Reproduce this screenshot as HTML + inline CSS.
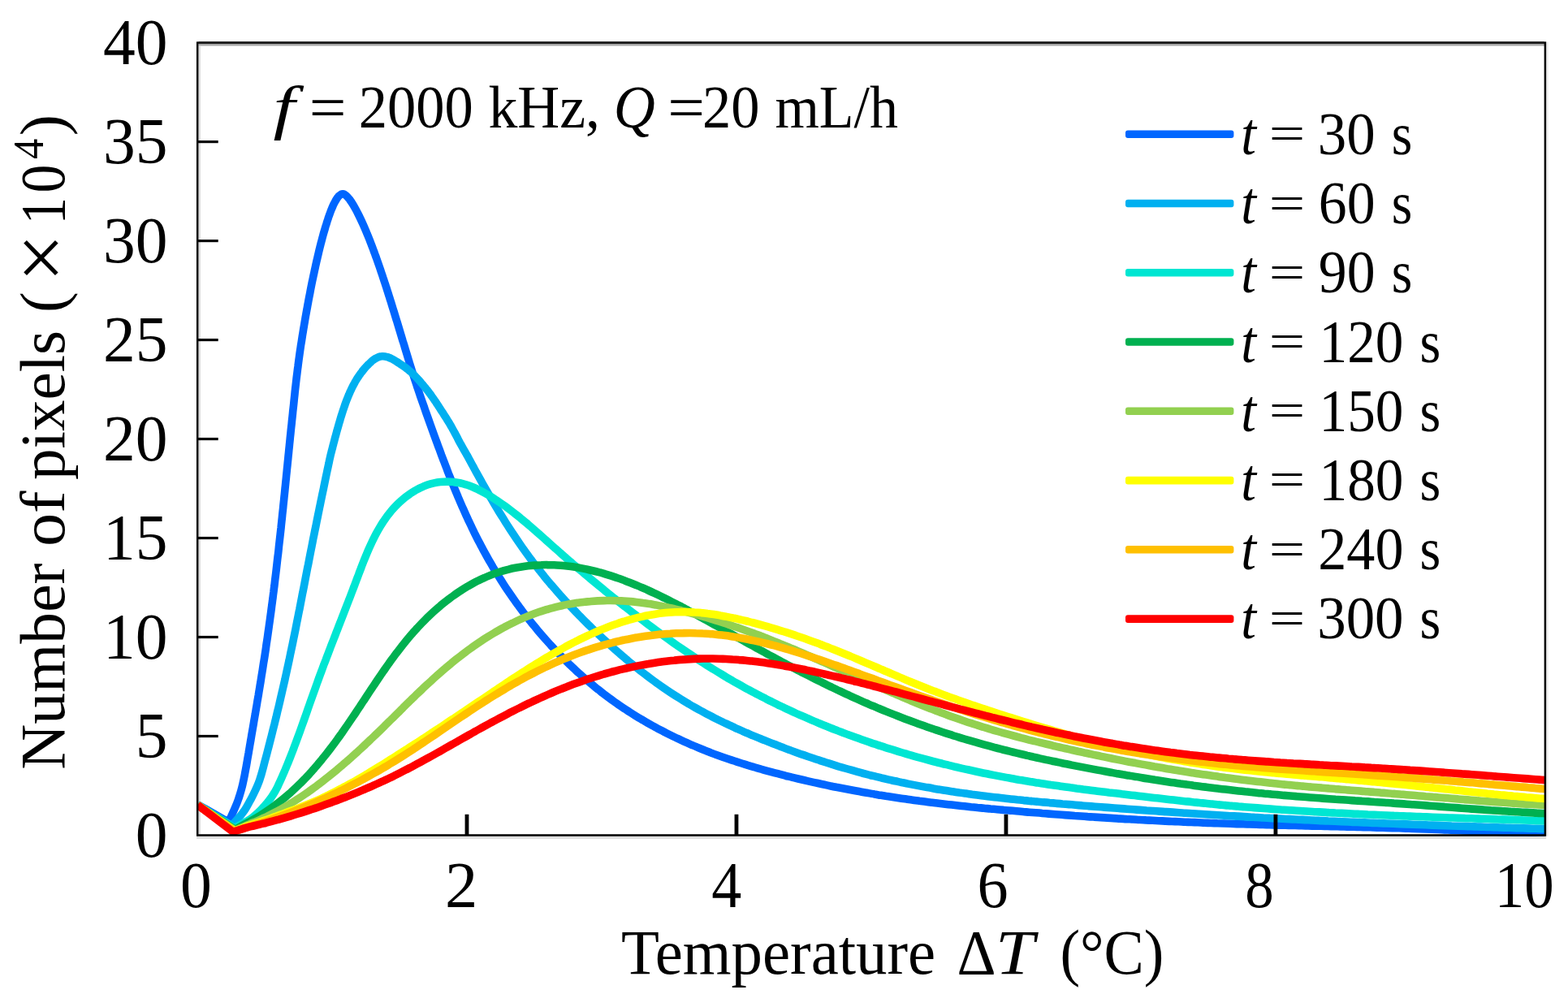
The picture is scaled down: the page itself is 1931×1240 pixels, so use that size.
<!DOCTYPE html>
<html lang="en">
<head>
<meta charset="utf-8">
<title>Number of pixels vs Temperature</title>
<style>
html,body{margin:0;padding:0;background:#fff;}
body{width:1931px;height:1240px;overflow:hidden;}
svg{display:block;}
</style>
</head>
<body>
<svg width="1931" height="1240" viewBox="0 0 1931 1240">
<defs><clipPath id="clip"><rect x="242.2" y="0" width="1660.7" height="1240"/></clipPath></defs>
<rect x="0" y="0" width="1931" height="1240" fill="#fff"/>
<g fill="none" stroke="#dedede" stroke-width="2.5">
<line x1="244.40" y1="55.15" x2="1904.10" y2="55.15" stroke="#a8a8a8"/>
<line x1="245.70" y1="56.40" x2="245.70" y2="1027.30"/>
<line x1="242.00" y1="1031.30" x2="1904.20" y2="1031.30" stroke-width="3.2" stroke="#e0e0e0"/>
<line x1="1905.40" y1="51.40" x2="1905.40" y2="1029.80" stroke="#ebebeb"/>
</g>
<g clip-path="url(#clip)" fill="none" stroke-width="9.6" stroke-linejoin="round" stroke-linecap="butt">
<path d="M243.4 990.6 L281.6 1012.3 C284.0 1007.0 287.0 1000.3 288.7 996.4 C290.4 992.5 290.8 991.5 291.8 989.0 C292.8 986.5 293.6 984.0 294.5 981.5 C295.3 978.9 296.1 976.4 296.8 973.8 C297.5 971.2 298.2 968.7 298.8 966.1 C299.4 963.5 300.0 960.9 300.5 958.2 C301.1 955.6 301.5 953.0 302.0 950.4 C302.5 947.8 303.0 945.1 303.5 942.5 C303.9 939.9 304.4 937.3 304.8 934.6 C305.3 932.0 305.7 929.4 306.2 926.8 C306.6 924.1 307.1 921.5 307.5 918.9 C308.0 916.2 308.4 913.6 308.9 911.0 C309.3 908.4 309.8 905.7 310.2 903.1 C310.7 900.5 311.1 897.8 311.6 895.2 C312.0 892.6 312.5 890.0 312.9 887.3 C313.4 884.7 313.8 882.1 314.3 879.4 C314.7 876.8 315.2 874.2 315.6 871.6 C316.1 868.9 316.5 866.3 316.9 863.7 C317.4 861.0 317.8 858.4 318.3 855.8 C318.7 853.1 319.1 850.5 319.6 847.9 C320.0 845.2 320.4 842.6 320.9 840.0 C321.3 837.3 321.7 834.7 322.1 832.1 C322.6 829.5 323.0 826.8 323.4 824.2 C323.8 821.6 324.2 818.9 324.6 816.3 C325.1 813.6 325.5 811.0 325.9 808.4 C326.3 805.7 326.7 803.1 327.1 800.5 C327.5 797.8 327.8 795.2 328.2 792.6 C328.6 789.9 329.0 787.3 329.4 784.6 C329.8 782.0 330.1 779.4 330.5 776.7 C330.9 774.1 331.3 771.4 331.6 768.8 C332.0 766.2 332.4 763.5 332.7 760.9 C333.1 758.2 333.4 755.6 333.8 753.0 C334.1 750.3 334.5 747.7 334.8 745.0 C335.2 742.4 335.5 739.7 335.9 737.1 C336.2 734.4 336.5 731.8 336.9 729.1 C337.2 726.5 337.5 723.9 337.9 721.2 C338.2 718.6 338.5 715.9 338.8 713.3 C339.1 710.6 339.5 708.0 339.8 705.3 C340.1 702.7 340.4 700.0 340.7 697.4 C341.0 694.7 341.3 692.1 341.6 689.4 C341.9 686.8 342.2 684.1 342.6 681.5 C342.9 678.8 343.2 676.2 343.4 673.5 C343.7 670.9 344.0 668.2 344.3 665.6 C344.6 662.9 344.9 660.3 345.2 657.6 C345.5 655.0 345.8 652.3 346.1 649.7 C346.3 647.0 346.6 644.4 346.9 641.7 C347.2 639.1 347.5 636.4 347.7 633.8 C348.0 631.1 348.3 628.5 348.6 625.8 C348.8 623.1 349.1 620.5 349.4 617.8 C349.7 615.2 349.9 612.5 350.2 609.9 C350.5 607.2 350.8 604.6 351.0 601.9 C351.3 599.3 351.6 596.6 351.8 594.0 C352.1 591.3 352.4 588.7 352.6 586.0 C352.9 583.3 353.2 580.7 353.4 578.0 C353.7 575.4 354.0 572.7 354.2 570.1 C354.5 567.4 354.8 564.8 355.0 562.1 C355.3 559.5 355.6 556.8 355.8 554.1 C356.1 551.5 356.4 548.9 356.6 546.2 C356.9 543.5 357.2 540.9 357.4 538.2 C357.7 535.6 358.0 532.9 358.2 530.3 C358.5 527.6 358.8 525.0 359.1 522.3 C359.3 519.7 359.6 517.0 359.9 514.4 C360.2 511.7 360.5 509.1 360.7 506.4 C361.0 503.8 361.3 501.1 361.6 498.5 C361.9 495.8 362.1 493.2 362.4 490.5 C362.7 487.9 363.0 485.2 363.2 482.6 C363.5 480.0 363.8 477.3 364.1 474.7 C364.4 472.0 364.7 469.4 365.0 466.7 C365.3 464.1 365.7 461.4 366.0 458.8 C366.3 456.1 366.6 453.5 367.0 450.9 C367.3 448.2 367.7 445.6 368.0 442.9 C368.4 440.3 368.7 437.8 369.1 435.0 C369.5 432.2 370.1 428.5 370.4 426.0 C370.8 423.5 371.1 422.0 371.4 420.0 C371.7 418.0 372.0 416.0 372.3 414.0 C372.6 412.0 373.0 410.0 373.3 408.0 C373.6 406.0 373.9 404.0 374.3 402.0 C374.6 400.0 375.0 398.0 375.3 396.0 C375.6 394.0 376.0 392.0 376.3 390.0 C376.7 388.0 377.0 386.0 377.4 384.0 C377.7 382.0 378.1 380.0 378.5 378.0 C378.8 376.0 379.2 374.0 379.6 372.0 C379.9 370.0 380.3 368.0 380.7 366.0 C381.1 364.0 381.5 362.0 381.9 360.0 C382.2 358.0 382.6 356.0 383.0 354.0 C383.4 352.0 383.8 350.0 384.2 348.0 C384.6 346.0 385.1 344.0 385.5 342.0 C385.9 340.0 386.3 338.0 386.8 336.0 C387.2 334.0 387.6 332.0 388.1 330.0 C388.5 328.0 388.9 326.0 389.4 324.0 C389.8 322.0 390.3 320.0 390.8 318.0 C391.2 316.0 391.7 314.0 392.2 312.0 C392.6 310.0 393.1 308.0 393.6 306.0 C394.1 304.0 394.6 302.0 395.1 300.0 C395.7 298.0 396.2 296.0 396.7 294.0 C397.2 292.0 397.8 290.0 398.3 288.0 C398.9 286.0 399.5 284.0 400.1 282.0 C400.6 280.0 401.2 278.0 401.9 276.0 C402.5 274.0 403.1 272.0 403.8 270.0 C404.4 268.0 405.1 266.0 405.9 264.0 C406.6 262.0 407.3 260.0 408.1 258.0 C409.0 256.0 409.8 254.0 410.7 252.0 C411.7 250.0 413.3 247.2 413.9 246.0 C414.6 244.8 414.3 245.4 414.7 244.8 C415.1 244.2 416.0 243.0 416.5 242.3 C417.1 241.6 417.7 241.1 418.2 240.6 C418.7 240.1 419.2 239.8 419.7 239.5 C420.2 239.2 420.7 239.1 421.1 238.9 C421.5 238.8 421.8 238.8 422.2 238.8 C422.6 238.8 422.8 238.8 423.2 238.9 C423.6 239.1 424.0 239.2 424.5 239.5 C425.0 239.8 425.5 240.1 426.0 240.6 C426.6 241.1 427.2 241.6 427.8 242.3 C428.5 243.0 429.4 244.2 429.9 244.8 C430.4 245.4 430.0 244.8 430.8 246.0 C431.7 247.2 433.6 250.0 434.8 252.0 C436.0 254.0 437.1 256.0 438.2 258.0 C439.3 260.0 440.3 262.0 441.3 264.0 C442.3 266.0 443.3 268.0 444.2 270.0 C445.2 272.0 446.1 274.0 447.0 276.0 C447.9 278.0 448.8 280.0 449.6 282.0 C450.5 284.0 451.3 286.0 452.1 288.0 C453.0 290.0 453.8 292.0 454.6 294.0 C455.4 296.0 456.1 298.0 456.9 300.0 C457.7 302.0 458.4 304.0 459.2 306.0 C459.9 308.0 460.7 310.0 461.4 312.0 C462.1 314.0 462.9 316.0 463.6 318.0 C464.3 320.0 465.0 322.0 465.7 324.0 C466.4 326.0 467.1 328.0 467.8 330.0 C468.5 332.0 469.1 334.0 469.8 336.0 C470.5 338.0 471.2 340.0 471.8 342.0 C472.5 344.0 473.1 346.0 473.8 348.0 C474.5 350.0 475.1 352.0 475.8 354.0 C476.4 356.0 477.0 358.0 477.7 360.0 C478.3 362.0 478.9 364.0 479.6 366.0 C480.2 368.0 480.8 370.0 481.5 372.0 C482.1 374.0 482.7 376.0 483.3 378.0 C483.9 380.0 484.6 382.0 485.2 384.0 C485.8 386.0 486.4 388.0 487.0 390.0 C487.6 392.0 488.2 394.0 488.9 396.0 C489.5 398.0 490.1 400.0 490.7 402.0 C491.3 404.0 491.9 406.0 492.5 408.0 C493.1 410.0 493.7 412.0 494.3 414.0 C494.9 416.0 495.5 418.0 496.1 420.0 C496.8 422.0 497.4 424.1 498.0 426.0 C498.6 427.9 499.0 429.5 499.7 431.7 C500.4 433.9 501.2 436.8 502.0 439.3 C502.8 441.9 503.6 444.4 504.3 446.9 C505.1 449.5 505.9 452.0 506.7 454.5 C507.5 457.1 508.3 459.6 509.1 462.1 C509.9 464.6 510.7 467.2 511.6 469.7 C512.4 472.2 513.2 474.8 514.1 477.3 C514.9 479.8 515.8 482.3 516.6 484.8 C517.5 487.4 518.4 489.9 519.2 492.4 C520.1 494.9 521.0 497.4 521.9 499.9 C522.8 502.5 523.6 505.0 524.5 507.5 C525.4 510.0 526.3 512.5 527.2 515.0 C528.1 517.6 529.0 520.1 529.9 522.6 C530.8 525.1 531.7 527.6 532.6 530.1 C533.5 532.6 534.4 535.1 535.3 537.6 C536.2 540.1 537.1 542.6 538.1 545.1 C539.0 547.7 539.9 550.2 540.9 552.7 C541.8 555.2 542.7 557.7 543.6 560.2 C544.6 562.7 545.5 565.2 546.5 567.7 C547.4 570.2 548.4 572.7 549.4 575.2 C550.3 577.7 551.3 580.2 552.2 582.7 C553.2 585.2 554.2 587.6 555.2 590.1 C556.2 592.6 557.2 595.1 558.2 597.6 C559.2 600.0 560.2 602.5 561.2 605.0 C562.3 607.5 563.3 609.9 564.3 612.4 C565.4 614.9 566.4 617.3 567.5 619.8 C568.5 622.2 569.6 624.7 570.7 627.1 C571.8 629.5 572.9 632.0 574.0 634.4 C575.1 636.8 576.2 639.3 577.3 641.7 C578.5 644.1 579.6 646.5 580.8 648.9 C581.9 651.3 583.1 653.7 584.2 656.1 C585.4 658.5 586.6 660.9 587.8 663.2 C589.0 665.6 590.3 668.0 591.5 670.3 C592.7 672.7 594.0 675.0 595.2 677.4 C596.5 679.7 597.8 682.0 599.1 684.4 C600.4 686.7 601.7 689.0 603.0 691.3 C604.4 693.6 605.7 695.9 607.0 698.2 C608.4 700.5 609.8 702.8 611.2 705.0 C612.5 707.3 613.9 709.5 615.4 711.8 C616.8 714.0 618.2 716.3 619.6 718.5 C621.1 720.8 622.5 723.0 624.0 725.2 C625.5 727.4 627.0 729.6 628.5 731.8 C630.0 734.0 631.5 736.2 633.0 738.3 C634.6 740.5 636.1 742.7 637.7 744.8 C639.3 747.0 640.8 749.1 642.4 751.2 C644.0 753.4 645.6 755.5 647.2 757.6 C648.9 759.7 650.5 761.8 652.2 763.9 C653.8 766.0 655.5 768.1 657.2 770.1 C658.9 772.2 660.6 774.3 662.3 776.3 C664.0 778.3 665.8 780.4 667.5 782.4 C669.2 784.4 671.0 786.4 672.8 788.4 C674.6 790.4 676.4 792.4 678.2 794.4 C680.0 796.3 681.8 798.3 683.6 800.2 C685.5 802.2 687.3 804.1 689.2 806.0 C691.1 808.0 693.0 809.9 694.9 811.8 C696.7 813.6 698.7 815.5 700.6 817.4 C702.5 819.2 704.4 821.1 706.4 822.9 C708.4 824.7 710.3 826.6 712.3 828.4 C714.3 830.1 716.3 831.9 718.3 833.7 C720.3 835.5 722.3 837.2 724.4 838.9 C726.4 840.7 728.4 842.4 730.5 844.1 C732.6 845.8 734.6 847.5 736.7 849.1 C738.8 850.8 740.9 852.4 743.0 854.1 C745.2 855.7 747.3 857.3 749.4 858.9 C751.6 860.5 753.7 862.0 755.9 863.6 C758.1 865.1 760.2 866.7 762.4 868.2 C764.6 869.7 766.8 871.2 769.0 872.7 C771.3 874.1 773.5 875.6 775.7 877.0 C778.0 878.5 780.2 879.9 782.5 881.3 C784.7 882.7 787.0 884.1 789.3 885.4 C791.6 886.8 793.9 888.1 796.2 889.5 C798.5 890.8 800.8 892.1 803.1 893.4 C805.4 894.7 807.8 895.9 810.1 897.2 C812.5 898.4 814.8 899.7 817.2 900.9 C819.6 902.1 821.9 903.3 824.3 904.5 C826.7 905.7 829.1 906.9 831.5 908.0 C833.9 909.1 836.3 910.3 838.7 911.4 C841.1 912.5 843.6 913.6 846.0 914.7 C848.4 915.8 850.9 916.8 853.3 917.9 C855.8 918.9 858.2 920.0 860.7 921.0 C863.1 922.0 865.6 923.0 868.1 924.0 C870.6 924.9 873.0 925.9 875.5 926.9 C878.0 927.8 880.5 928.7 883.0 929.7 C885.5 930.6 888.0 931.5 890.6 932.4 C893.1 933.3 895.6 934.1 898.1 935.0 C900.6 935.9 903.2 936.7 905.7 937.5 C908.2 938.4 910.8 939.2 913.3 940.0 C915.9 940.8 918.4 941.6 921.0 942.4 C923.5 943.1 926.1 943.9 928.7 944.7 C931.2 945.4 933.8 946.2 936.4 946.9 C938.9 947.6 941.5 948.4 944.1 949.1 C946.6 949.8 949.2 950.5 951.8 951.2 C954.4 951.9 957.0 952.5 959.6 953.2 C962.2 953.9 964.7 954.5 967.3 955.2 C969.9 955.8 972.5 956.5 975.1 957.1 C977.7 957.8 980.3 958.4 982.9 959.0 C985.5 959.6 988.1 960.2 990.7 960.8 C993.3 961.4 995.9 962.0 998.5 962.6 C1001.1 963.2 1003.7 963.8 1006.3 964.3 C1008.9 964.9 1011.6 965.5 1014.2 966.0 C1016.8 966.6 1019.4 967.1 1022.0 967.7 C1024.6 968.2 1027.2 968.7 1029.8 969.3 C1032.4 969.8 1035.0 970.3 1037.7 970.8 C1040.3 971.3 1042.9 971.8 1045.5 972.3 C1048.1 972.8 1050.7 973.3 1053.4 973.8 C1056.0 974.3 1058.6 974.8 1061.2 975.2 C1063.8 975.7 1066.5 976.2 1069.1 976.6 C1071.7 977.1 1074.3 977.5 1077.0 978.0 C1079.6 978.4 1082.2 978.9 1084.8 979.3 C1087.5 979.7 1090.1 980.1 1092.7 980.6 C1095.4 981.0 1098.0 981.4 1100.6 981.8 C1103.3 982.2 1105.9 982.6 1108.5 983.0 C1111.2 983.4 1113.8 983.7 1116.4 984.1 C1119.1 984.5 1121.7 984.9 1124.3 985.2 C1127.0 985.6 1129.6 985.9 1132.3 986.3 C1134.9 986.6 1137.6 987.0 1140.2 987.3 C1142.8 987.7 1145.5 988.0 1148.1 988.3 C1150.8 988.6 1153.4 989.0 1156.1 989.3 C1158.7 989.6 1161.4 989.9 1164.0 990.2 C1166.7 990.5 1169.3 990.8 1172.0 991.1 C1174.6 991.4 1177.3 991.7 1180.0 992.0 C1182.6 992.3 1185.3 992.6 1187.9 992.8 C1190.6 993.1 1193.2 993.4 1195.9 993.7 C1198.5 993.9 1201.2 994.2 1203.8 994.5 C1206.5 994.7 1209.2 995.0 1211.8 995.2 C1214.5 995.5 1217.1 995.7 1219.8 996.0 C1222.4 996.2 1225.1 996.5 1227.8 996.7 C1230.4 997.0 1233.1 997.2 1235.7 997.4 C1238.4 997.7 1241.1 997.9 1243.7 998.1 C1246.4 998.4 1249.0 998.6 1251.7 998.8 C1254.3 999.1 1257.0 999.3 1259.7 999.5 C1262.3 999.7 1265.0 1000.0 1267.6 1000.2 C1270.3 1000.4 1272.9 1000.6 1275.6 1000.8 C1278.3 1001.0 1280.9 1001.2 1283.6 1001.5 C1286.2 1001.7 1288.9 1001.9 1291.5 1002.1 C1294.2 1002.3 1296.9 1002.5 1299.5 1002.7 C1302.2 1002.9 1304.8 1003.1 1307.5 1003.3 C1310.2 1003.5 1312.8 1003.7 1315.5 1003.9 C1318.1 1004.1 1320.8 1004.3 1323.5 1004.5 C1326.1 1004.6 1328.8 1004.8 1331.4 1005.0 C1334.1 1005.2 1336.7 1005.4 1339.4 1005.6 C1342.1 1005.7 1344.7 1005.9 1347.4 1006.1 C1350.0 1006.3 1352.7 1006.5 1355.4 1006.6 C1358.0 1006.8 1360.7 1007.0 1363.3 1007.1 C1366.0 1007.3 1368.7 1007.5 1371.3 1007.6 C1374.0 1007.8 1376.6 1007.9 1379.3 1008.1 C1382.0 1008.3 1384.6 1008.4 1387.3 1008.6 C1390.0 1008.7 1392.6 1008.9 1395.3 1009.0 C1397.9 1009.2 1400.6 1009.3 1403.3 1009.5 C1405.9 1009.6 1408.6 1009.7 1411.2 1009.9 C1413.9 1010.0 1416.6 1010.2 1419.2 1010.3 C1421.9 1010.4 1424.6 1010.6 1427.2 1010.7 C1429.9 1010.8 1432.6 1011.0 1435.2 1011.1 C1437.9 1011.2 1440.6 1011.3 1443.2 1011.5 C1445.9 1011.6 1448.5 1011.7 1451.2 1011.8 C1453.9 1011.9 1456.5 1012.1 1459.2 1012.2 C1461.9 1012.3 1464.5 1012.4 1467.2 1012.5 C1469.9 1012.6 1472.5 1012.7 1475.2 1012.8 C1477.9 1012.9 1480.5 1013.1 1483.2 1013.2 C1485.9 1013.3 1488.5 1013.4 1491.2 1013.5 C1493.9 1013.6 1496.5 1013.7 1499.2 1013.8 C1501.9 1013.8 1504.5 1013.9 1507.2 1014.0 C1509.8 1014.1 1512.5 1014.2 1515.2 1014.3 C1517.8 1014.4 1520.5 1014.5 1523.2 1014.6 C1525.8 1014.6 1528.5 1014.7 1531.2 1014.8 C1533.8 1014.9 1536.5 1015.0 1539.2 1015.0 C1541.8 1015.1 1544.5 1015.2 1547.2 1015.3 C1549.8 1015.4 1552.5 1015.4 1555.2 1015.5 C1557.8 1015.6 1560.5 1015.7 1563.2 1015.7 C1565.8 1015.8 1568.5 1015.9 1571.2 1015.9 C1573.8 1016.0 1576.5 1016.1 1579.2 1016.1 C1581.8 1016.2 1584.5 1016.3 1587.1 1016.4 C1589.8 1016.4 1592.5 1016.5 1595.1 1016.5 C1597.8 1016.6 1600.5 1016.7 1603.1 1016.7 C1605.8 1016.8 1608.5 1016.9 1611.1 1016.9 C1613.8 1017.0 1616.5 1017.1 1619.1 1017.1 C1621.8 1017.2 1624.5 1017.3 1627.1 1017.3 C1629.8 1017.4 1632.5 1017.4 1635.1 1017.5 C1637.8 1017.6 1640.5 1017.6 1643.1 1017.7 C1645.8 1017.8 1648.5 1017.8 1651.1 1017.9 C1653.8 1018.0 1656.4 1018.0 1659.1 1018.1 C1661.8 1018.2 1664.4 1018.2 1667.1 1018.3 C1669.8 1018.4 1672.4 1018.4 1675.1 1018.5 C1677.8 1018.6 1680.4 1018.6 1683.1 1018.7 C1685.8 1018.8 1688.4 1018.8 1691.1 1018.9 C1693.8 1019.0 1696.4 1019.1 1699.1 1019.1 C1701.8 1019.2 1704.4 1019.3 1707.1 1019.4 C1709.8 1019.4 1712.4 1019.5 1715.1 1019.6 C1717.8 1019.7 1720.4 1019.8 1723.1 1019.8 C1725.8 1019.9 1728.4 1020.0 1731.1 1020.1 C1733.8 1020.2 1736.4 1020.3 1739.1 1020.4 C1741.8 1020.4 1744.4 1020.5 1747.1 1020.6 C1749.7 1020.7 1752.4 1020.8 1755.1 1020.9 C1757.7 1021.0 1760.4 1021.1 1763.1 1021.2 C1765.7 1021.3 1768.4 1021.4 1771.1 1021.5 C1773.7 1021.6 1776.4 1021.7 1779.1 1021.9 C1781.7 1022.0 1784.4 1022.1 1787.0 1022.2 C1789.7 1022.3 1792.4 1022.4 1795.0 1022.5 C1797.7 1022.6 1800.4 1022.7 1803.0 1022.9 C1805.7 1023.0 1808.4 1023.1 1811.0 1023.2 C1813.7 1023.3 1816.4 1023.4 1819.0 1023.5 C1821.7 1023.6 1824.4 1023.7 1827.0 1023.8 C1829.7 1023.9 1832.3 1024.0 1835.0 1024.1 C1837.7 1024.2 1840.3 1024.2 1843.0 1024.3 C1845.7 1024.4 1848.3 1024.5 1851.0 1024.6 C1853.7 1024.6 1856.3 1024.7 1859.0 1024.8 C1861.7 1024.8 1864.3 1024.9 1867.0 1024.9 C1869.7 1025.0 1872.3 1025.0 1875.0 1025.0 C1877.7 1025.0 1880.3 1025.1 1883.0 1025.1 C1885.7 1025.1 1888.3 1025.1 1891.0 1025.1 C1893.7 1025.1 1897.0 1025.0 1899.0 1025.0 C1901.0 1025.0 1902.3 1025.0 1903.0 1025.0" stroke="#0066FF"/>
<path d="M243.4 991.2 L285.5 1016.5 C289.4 1012.0 294.4 1006.4 297.2 1003.1 C299.9 999.8 300.4 998.9 301.9 996.7 C303.4 994.4 304.7 992.1 305.9 989.8 C307.2 987.5 308.4 985.1 309.7 982.8 C310.9 980.4 312.1 978.0 313.3 975.6 C314.5 973.2 315.6 970.8 316.7 968.3 C317.7 965.9 318.7 963.4 319.6 960.9 C320.4 958.3 321.2 955.8 322.0 953.2 C322.7 950.7 323.4 948.1 324.1 945.5 C324.8 942.9 325.5 940.3 326.1 937.7 C326.8 935.2 327.5 932.6 328.2 930.0 C328.9 927.4 329.5 924.8 330.2 922.2 C330.9 919.7 331.5 917.1 332.2 914.5 C332.9 911.9 333.5 909.3 334.2 906.8 C334.8 904.2 335.5 901.6 336.1 899.0 C336.8 896.4 337.4 893.8 338.1 891.2 C338.7 888.7 339.3 886.1 340.0 883.5 C340.6 880.9 341.2 878.3 341.8 875.7 C342.5 873.2 343.1 870.6 343.7 868.0 C344.3 865.4 344.9 862.8 345.5 860.2 C346.1 857.6 346.7 855.0 347.3 852.4 C347.9 849.8 348.5 847.2 349.1 844.6 C349.7 842.0 350.3 839.4 350.9 836.8 C351.4 834.2 352.0 831.6 352.6 829.0 C353.2 826.4 353.7 823.8 354.3 821.2 C354.9 818.6 355.4 816.0 356.0 813.4 C356.5 810.8 357.1 808.2 357.6 805.5 C358.2 802.9 358.7 800.3 359.3 797.7 C359.8 795.1 360.4 792.5 360.9 789.9 C361.4 787.2 362.0 784.6 362.5 782.0 C363.0 779.4 363.6 776.8 364.1 774.1 C364.6 771.5 365.1 768.9 365.6 766.3 C366.2 763.6 366.7 761.0 367.2 758.4 C367.7 755.8 368.2 753.1 368.8 750.5 C369.3 747.9 369.8 745.3 370.3 742.6 C370.8 740.0 371.3 737.4 371.8 734.8 C372.3 732.2 372.8 729.5 373.4 726.9 C373.9 724.3 374.4 721.7 374.9 719.1 C375.4 716.4 375.9 713.8 376.4 711.2 C376.9 708.6 377.4 706.0 377.9 703.4 C378.4 700.7 378.9 698.1 379.5 695.5 C380.0 692.9 380.5 690.3 381.0 687.7 C381.5 685.1 382.0 682.5 382.5 679.9 C383.0 677.3 383.6 674.7 384.1 672.0 C384.6 669.4 385.1 666.8 385.6 664.2 C386.1 661.6 386.7 659.0 387.2 656.4 C387.7 653.8 388.2 651.2 388.8 648.6 C389.3 646.0 389.8 643.4 390.3 640.8 C390.9 638.2 391.4 635.6 391.9 633.0 C392.5 630.4 393.0 627.8 393.5 625.2 C394.1 622.6 394.6 620.0 395.1 617.4 C395.7 614.8 396.2 612.2 396.7 609.6 C397.3 607.0 397.8 604.4 398.4 601.8 C398.9 599.2 399.5 596.5 400.0 593.9 C400.5 591.3 401.1 588.7 401.6 586.1 C402.2 583.5 402.7 580.8 403.3 578.2 C403.9 575.6 404.4 573.0 405.0 570.3 C405.5 567.7 406.2 564.4 406.7 562.4 C407.1 560.5 407.3 559.8 407.6 558.5 C407.9 557.3 408.3 556.0 408.6 554.7 C408.9 553.4 409.3 552.1 409.6 550.8 C409.9 549.5 410.3 548.2 410.6 546.9 C410.9 545.6 411.3 544.4 411.6 543.1 C412.0 541.8 412.3 540.5 412.6 539.2 C413.0 537.9 413.3 536.6 413.7 535.3 C414.0 534.1 414.4 532.8 414.7 531.5 C415.1 530.2 415.4 528.9 415.8 527.6 C416.2 526.3 416.5 525.1 416.9 523.8 C417.3 522.5 417.6 521.2 418.0 519.9 C418.4 518.7 418.8 517.4 419.1 516.1 C419.5 514.8 419.9 513.5 420.3 512.3 C420.7 511.0 421.1 509.7 421.5 508.4 C421.9 507.2 422.3 505.9 422.7 504.6 C423.2 503.4 423.6 502.1 424.0 500.8 C424.5 499.6 424.9 498.3 425.3 497.0 C425.8 495.8 426.3 494.5 426.7 493.3 C427.2 492.0 427.7 490.8 428.2 489.6 C428.7 488.3 429.2 487.1 429.7 485.9 C430.2 484.6 430.8 483.4 431.3 482.2 C431.9 481.0 432.4 479.8 433.0 478.6 C433.6 477.4 434.2 476.2 434.8 475.0 C435.4 473.8 436.1 472.6 436.7 471.5 C437.3 470.3 438.0 469.1 438.7 468.0 C439.4 466.8 440.1 465.7 440.8 464.6 C441.6 463.5 442.3 462.4 443.1 461.3 C443.8 460.2 444.6 459.1 445.5 458.1 C446.3 457.0 447.1 456.0 448.0 454.9 C448.8 453.9 449.7 452.9 450.6 451.9 C451.5 451.0 452.4 450.0 453.4 449.0 C454.3 448.1 455.3 447.2 456.3 446.3 C457.2 445.4 458.3 444.4 459.3 443.6 C460.4 442.8 461.4 442.0 462.6 441.4 C463.8 440.7 465.0 440.1 466.2 439.6 C467.5 439.2 468.9 438.9 470.2 438.8 C471.5 438.6 472.8 438.7 474.2 438.9 C475.5 439.1 476.8 439.5 478.1 439.9 C479.3 440.4 480.6 440.9 481.8 441.5 C483.0 442.1 484.1 442.7 485.3 443.4 C486.5 444.1 487.6 444.8 488.7 445.5 C489.9 446.2 491.0 446.9 492.1 447.7 C493.2 448.4 494.3 449.1 495.4 449.9 C496.5 450.6 497.6 451.4 498.7 452.2 C499.8 453.0 500.8 453.8 501.9 454.6 C502.9 455.4 503.9 456.3 504.9 457.2 C506.0 458.0 506.9 458.9 507.9 459.8 C508.9 460.8 509.8 461.7 510.8 462.6 C511.7 463.6 512.6 464.6 513.5 465.6 C514.4 466.5 515.3 467.5 516.2 468.5 C517.1 469.5 518.0 470.5 518.8 471.6 C519.7 472.6 520.6 473.6 521.4 474.6 C522.3 475.6 523.1 476.7 524.0 477.7 C524.8 478.7 525.6 479.8 526.5 480.8 C527.3 481.9 528.1 482.9 528.9 484.0 C529.7 485.1 530.5 486.1 531.2 487.2 C532.0 488.3 532.8 489.4 533.5 490.5 C534.3 491.6 535.1 492.7 535.8 493.8 C536.6 494.9 537.3 496.0 538.0 497.1 C538.8 498.2 539.5 499.4 540.2 500.5 C540.9 501.6 541.7 502.7 542.4 503.8 C543.1 505.0 543.8 506.1 544.6 507.2 C545.3 508.3 546.0 509.4 546.7 510.6 C547.5 511.7 548.2 512.8 548.9 513.9 C549.6 515.1 550.3 516.2 551.0 517.3 C551.7 518.5 552.4 519.6 553.1 520.7 C553.8 521.9 554.4 523.0 555.1 524.2 C555.8 525.3 556.4 526.5 557.1 527.7 C557.7 528.8 558.4 530.0 559.0 531.2 C559.6 532.4 560.3 533.5 560.9 534.7 C561.5 535.9 562.1 537.1 562.8 538.2 C563.4 539.4 564.0 540.6 564.6 541.8 C565.3 542.9 565.9 544.1 566.5 545.3 C567.2 546.5 567.8 547.6 568.5 548.8 C569.1 550.0 569.7 551.1 570.4 552.3 C571.1 553.5 571.7 554.6 572.4 555.8 C573.0 556.9 573.9 558.4 574.4 559.3 C574.8 560.1 574.4 559.3 575.2 560.7 C576.0 562.1 577.7 565.4 579.0 567.7 C580.2 570.1 581.5 572.4 582.8 574.7 C584.1 577.1 585.4 579.4 586.6 581.7 C587.9 584.0 589.2 586.4 590.5 588.7 C591.8 591.0 593.1 593.3 594.4 595.7 C595.8 598.0 597.1 600.3 598.4 602.6 C599.7 604.9 601.0 607.3 602.4 609.6 C603.7 611.9 605.1 614.2 606.4 616.5 C607.8 618.8 609.1 621.1 610.5 623.4 C611.9 625.7 613.3 628.0 614.6 630.3 C616.0 632.5 617.4 634.8 618.9 637.1 C620.3 639.4 621.7 641.6 623.1 643.9 C624.5 646.1 626.0 648.4 627.4 650.6 C628.9 652.9 630.3 655.1 631.8 657.3 C633.3 659.6 634.8 661.8 636.3 664.0 C637.8 666.2 639.3 668.4 640.8 670.6 C642.3 672.8 643.8 675.0 645.4 677.1 C646.9 679.3 648.5 681.5 650.1 683.6 C651.6 685.8 653.2 687.9 654.8 690.0 C656.4 692.2 658.0 694.3 659.7 696.4 C661.3 698.5 662.9 700.6 664.6 702.7 C666.2 704.8 667.9 706.9 669.6 708.9 C671.3 711.0 672.9 713.1 674.6 715.1 C676.4 717.1 678.1 719.2 679.8 721.2 C681.5 723.2 683.3 725.2 685.0 727.2 C686.8 729.3 688.5 731.3 690.3 733.2 C692.1 735.2 693.9 737.2 695.6 739.2 C697.4 741.1 699.3 743.1 701.1 745.0 C702.9 747.0 704.7 748.9 706.6 750.9 C708.4 752.8 710.2 754.7 712.1 756.6 C714.0 758.5 715.8 760.4 717.7 762.3 C719.6 764.2 721.5 766.1 723.4 768.0 C725.3 769.9 727.2 771.7 729.1 773.6 C731.0 775.5 732.9 777.3 734.9 779.1 C736.8 781.0 738.7 782.8 740.7 784.6 C742.6 786.5 744.6 788.3 746.6 790.1 C748.5 791.9 750.5 793.7 752.5 795.5 C754.5 797.3 756.5 799.1 758.5 800.8 C760.5 802.6 762.5 804.3 764.5 806.1 C766.6 807.8 768.6 809.6 770.6 811.3 C772.7 813.0 774.7 814.7 776.8 816.4 C778.9 818.1 780.9 819.8 783.0 821.5 C785.1 823.1 787.2 824.8 789.3 826.5 C791.4 828.1 793.5 829.7 795.6 831.3 C797.7 833.0 799.9 834.6 802.0 836.1 C804.2 837.7 806.3 839.3 808.5 840.9 C810.6 842.4 812.8 844.0 815.0 845.5 C817.2 847.0 819.4 848.5 821.6 850.0 C823.8 851.5 826.0 853.0 828.2 854.4 C830.5 855.9 832.7 857.3 835.0 858.7 C837.2 860.1 839.5 861.5 841.7 862.9 C844.0 864.3 846.3 865.7 848.6 867.0 C850.9 868.4 853.2 869.7 855.5 871.0 C857.8 872.3 860.1 873.6 862.5 874.9 C864.8 876.2 867.2 877.4 869.5 878.7 C871.9 879.9 874.2 881.2 876.6 882.4 C879.0 883.6 881.3 884.8 883.7 886.0 C886.1 887.2 888.5 888.3 890.9 889.5 C893.3 890.6 895.7 891.8 898.1 892.9 C900.6 894.0 903.0 895.2 905.4 896.3 C907.8 897.4 910.3 898.4 912.7 899.5 C915.2 900.6 917.6 901.7 920.1 902.7 C922.5 903.8 925.0 904.8 927.4 905.9 C929.9 906.9 932.4 907.9 934.8 908.9 C937.3 910.0 939.8 910.9 942.3 911.9 C944.7 912.9 947.2 913.9 949.7 914.9 C952.2 915.9 954.7 916.8 957.2 917.8 C959.7 918.7 962.2 919.7 964.7 920.6 C967.2 921.6 969.7 922.5 972.2 923.4 C974.7 924.4 977.2 925.3 979.7 926.2 C982.2 927.1 984.7 928.0 987.2 928.9 C989.8 929.7 992.3 930.6 994.8 931.5 C997.3 932.3 999.9 933.2 1002.4 934.0 C1004.9 934.9 1007.4 935.7 1010.0 936.6 C1012.5 937.4 1015.0 938.2 1017.6 939.0 C1020.1 939.8 1022.7 940.6 1025.2 941.4 C1027.8 942.2 1030.3 943.0 1032.8 943.8 C1035.4 944.5 1038.0 945.3 1040.5 946.0 C1043.1 946.8 1045.6 947.5 1048.2 948.2 C1050.8 949.0 1053.3 949.7 1055.9 950.4 C1058.5 951.1 1061.0 951.8 1063.6 952.5 C1066.2 953.1 1068.8 953.8 1071.3 954.5 C1073.9 955.1 1076.5 955.8 1079.1 956.4 C1081.7 957.0 1084.3 957.6 1086.9 958.3 C1089.5 958.9 1092.1 959.5 1094.7 960.1 C1097.3 960.7 1099.9 961.2 1102.5 961.8 C1105.1 962.4 1107.7 962.9 1110.3 963.5 C1112.9 964.0 1115.5 964.6 1118.1 965.1 C1120.7 965.6 1123.4 966.1 1126.0 966.6 C1128.6 967.1 1131.2 967.6 1133.8 968.1 C1136.5 968.6 1139.1 969.1 1141.7 969.6 C1144.3 970.0 1147.0 970.5 1149.6 971.0 C1152.2 971.4 1154.9 971.8 1157.5 972.3 C1160.1 972.7 1162.8 973.1 1165.4 973.5 C1168.0 974.0 1170.7 974.4 1173.3 974.8 C1175.9 975.2 1178.6 975.6 1181.2 976.0 C1183.9 976.3 1186.5 976.7 1189.2 977.1 C1191.8 977.5 1194.4 977.8 1197.1 978.2 C1199.7 978.5 1202.4 978.9 1205.0 979.2 C1207.7 979.6 1210.3 979.9 1213.0 980.2 C1215.6 980.6 1218.2 980.9 1220.9 981.2 C1223.5 981.5 1226.2 981.8 1228.8 982.1 C1231.5 982.5 1234.1 982.8 1236.8 983.1 C1239.4 983.4 1242.1 983.6 1244.7 983.9 C1247.4 984.2 1250.0 984.5 1252.7 984.8 C1255.3 985.0 1258.0 985.3 1260.7 985.6 C1263.3 985.8 1266.0 986.1 1268.6 986.4 C1271.3 986.6 1273.9 986.9 1276.6 987.1 C1279.2 987.4 1281.9 987.6 1284.5 987.9 C1287.2 988.1 1289.8 988.3 1292.5 988.6 C1295.2 988.8 1297.8 989.0 1300.5 989.3 C1303.1 989.5 1305.8 989.7 1308.4 990.0 C1311.1 990.2 1313.7 990.4 1316.4 990.6 C1319.1 990.9 1321.7 991.1 1324.4 991.3 C1327.0 991.5 1329.7 991.7 1332.3 991.9 C1335.0 992.2 1337.7 992.4 1340.3 992.6 C1343.0 992.8 1345.6 993.0 1348.3 993.2 C1351.0 993.4 1353.6 993.6 1356.3 993.8 C1358.9 994.0 1361.6 994.2 1364.2 994.4 C1366.9 994.6 1369.6 994.8 1372.2 995.0 C1374.9 995.2 1377.5 995.4 1380.2 995.6 C1382.9 995.8 1385.5 996.0 1388.2 996.2 C1390.8 996.4 1393.5 996.6 1396.2 996.8 C1398.8 997.0 1401.5 997.2 1404.1 997.4 C1406.8 997.6 1409.5 997.8 1412.1 998.0 C1414.8 998.1 1417.4 998.3 1420.1 998.5 C1422.8 998.7 1425.4 998.9 1428.1 999.1 C1430.8 999.3 1433.4 999.4 1436.1 999.6 C1438.7 999.8 1441.4 1000.0 1444.0 1000.1 C1446.7 1000.3 1449.4 1000.5 1452.0 1000.7 C1454.7 1000.9 1457.4 1001.0 1460.0 1001.2 C1462.7 1001.4 1465.3 1001.6 1468.0 1001.7 C1470.7 1001.9 1473.3 1002.1 1476.0 1002.2 C1478.7 1002.4 1481.3 1002.6 1484.0 1002.7 C1486.6 1002.9 1489.3 1003.1 1492.0 1003.2 C1494.6 1003.4 1497.3 1003.6 1499.9 1003.7 C1502.6 1003.9 1505.3 1004.1 1507.9 1004.2 C1510.6 1004.4 1513.2 1004.5 1515.9 1004.7 C1518.6 1004.8 1521.2 1005.0 1523.9 1005.1 C1526.6 1005.3 1529.2 1005.5 1531.9 1005.6 C1534.5 1005.8 1537.2 1005.9 1539.9 1006.1 C1542.5 1006.2 1545.2 1006.4 1547.9 1006.5 C1550.5 1006.7 1553.2 1006.8 1555.8 1007.0 C1558.5 1007.1 1561.2 1007.2 1563.8 1007.4 C1566.5 1007.5 1569.2 1007.7 1571.8 1007.8 C1574.5 1007.9 1577.1 1008.1 1579.8 1008.2 C1582.5 1008.4 1585.1 1008.5 1587.8 1008.6 C1590.5 1008.8 1593.1 1008.9 1595.8 1009.0 C1598.5 1009.2 1601.1 1009.3 1603.8 1009.4 C1606.4 1009.6 1609.1 1009.7 1611.8 1009.8 C1614.4 1010.0 1617.1 1010.1 1619.8 1010.2 C1622.4 1010.3 1625.1 1010.5 1627.8 1010.6 C1630.4 1010.7 1633.1 1010.8 1635.7 1011.0 C1638.4 1011.1 1641.1 1011.2 1643.7 1011.3 C1646.4 1011.4 1649.1 1011.6 1651.7 1011.7 C1654.4 1011.8 1657.1 1011.9 1659.7 1012.0 C1662.4 1012.1 1665.0 1012.3 1667.7 1012.4 C1670.4 1012.5 1673.0 1012.6 1675.7 1012.7 C1678.4 1012.8 1681.0 1012.9 1683.7 1013.0 C1686.4 1013.1 1689.0 1013.3 1691.7 1013.4 C1694.4 1013.5 1697.0 1013.6 1699.7 1013.7 C1702.4 1013.8 1705.0 1013.9 1707.7 1014.0 C1710.3 1014.1 1713.0 1014.2 1715.7 1014.3 C1718.3 1014.4 1721.0 1014.5 1723.7 1014.6 C1726.3 1014.7 1729.0 1014.8 1731.7 1014.9 C1734.3 1015.0 1737.0 1015.1 1739.7 1015.2 C1742.3 1015.3 1745.0 1015.4 1747.7 1015.5 C1750.3 1015.6 1753.0 1015.7 1755.7 1015.8 C1758.3 1015.9 1761.0 1016.0 1763.6 1016.1 C1766.3 1016.2 1769.0 1016.3 1771.6 1016.4 C1774.3 1016.5 1777.0 1016.6 1779.6 1016.7 C1782.3 1016.8 1785.0 1016.9 1787.6 1017.0 C1790.3 1017.0 1793.0 1017.1 1795.6 1017.2 C1798.3 1017.3 1801.0 1017.4 1803.6 1017.5 C1806.3 1017.6 1808.9 1017.7 1811.6 1017.8 C1814.3 1017.9 1816.9 1017.9 1819.6 1018.0 C1822.3 1018.1 1824.9 1018.2 1827.6 1018.3 C1830.3 1018.4 1832.9 1018.5 1835.6 1018.5 C1838.3 1018.6 1840.9 1018.7 1843.6 1018.8 C1846.3 1018.9 1848.9 1019.0 1851.6 1019.1 C1854.3 1019.2 1856.9 1019.2 1859.6 1019.3 C1862.3 1019.4 1864.9 1019.5 1867.6 1019.6 C1870.2 1019.7 1872.9 1019.7 1875.6 1019.8 C1878.2 1019.9 1880.9 1020.0 1883.6 1020.1 C1886.2 1020.2 1888.9 1020.3 1891.6 1020.3 C1894.2 1020.4 1897.7 1020.5 1899.6 1020.6 C1901.5 1020.7 1902.4 1020.7 1903.0 1020.7" stroke="#00B0F0"/>
<path d="M243.4 991.2 L288.5 1019.5 C294.1 1016.5 301.5 1012.7 305.4 1010.4 C309.3 1008.2 309.9 1007.5 311.9 1005.8 C314.0 1004.2 315.9 1002.4 317.9 1000.6 C319.8 998.8 321.6 996.9 323.4 994.9 C325.2 993.0 327.1 990.9 328.8 988.8 C330.5 986.8 332.2 984.6 333.8 982.4 C335.3 980.2 336.8 978.0 338.1 975.7 C339.5 973.4 340.7 971.0 341.9 968.7 C343.0 966.3 344.1 963.9 345.2 961.5 C346.3 959.1 347.4 956.7 348.4 954.2 C349.5 951.8 350.5 949.4 351.6 946.9 C352.6 944.5 353.6 942.0 354.6 939.6 C355.6 937.1 356.6 934.6 357.6 932.1 C358.5 929.7 359.5 927.2 360.5 924.7 C361.4 922.2 362.4 919.7 363.3 917.2 C364.3 914.7 365.2 912.2 366.1 909.7 C367.0 907.2 368.0 904.6 368.9 902.1 C369.8 899.6 370.7 897.1 371.6 894.5 C372.5 892.0 373.4 889.5 374.3 887.0 C375.2 884.4 376.1 881.9 377.0 879.4 C377.9 876.9 378.8 874.3 379.6 871.8 C380.5 869.3 381.4 866.7 382.3 864.2 C383.2 861.7 384.1 859.2 385.0 856.6 C385.9 854.1 386.8 851.6 387.7 849.1 C388.6 846.6 389.5 844.0 390.4 841.5 C391.3 839.0 392.2 836.5 393.1 834.0 C394.0 831.5 394.9 829.1 395.9 826.6 C396.8 824.1 397.7 821.6 398.6 819.1 C399.6 816.6 400.5 814.2 401.5 811.7 C402.4 809.2 403.3 806.7 404.3 804.3 C405.2 801.8 406.2 799.3 407.1 796.9 C408.1 794.4 409.0 791.9 410.0 789.5 C411.0 787.0 411.9 784.5 412.9 782.1 C413.8 779.6 414.8 777.1 415.8 774.7 C416.7 772.2 417.7 769.7 418.6 767.3 C419.6 764.8 420.6 762.3 421.5 759.8 C422.5 757.4 423.5 754.9 424.4 752.4 C425.4 749.9 426.4 747.4 427.3 744.9 C428.3 742.5 429.2 740.0 430.2 737.5 C431.2 735.0 432.1 732.5 433.1 729.9 C434.1 727.4 435.0 724.9 436.0 722.4 C436.9 719.9 437.9 717.3 438.8 714.8 C439.8 712.3 440.7 709.7 441.7 707.2 C442.6 704.7 443.6 702.1 444.6 699.6 C445.5 697.0 446.5 694.5 447.5 692.0 C448.5 689.5 449.5 687.0 450.6 684.5 C451.6 682.0 452.6 679.5 453.7 677.0 C454.8 674.5 455.9 672.1 457.0 669.7 C458.2 667.2 459.3 664.8 460.5 662.5 C461.7 660.1 462.9 657.7 464.2 655.4 C465.5 653.1 466.8 650.8 468.1 648.6 C469.5 646.3 470.9 644.1 472.3 641.9 C473.8 639.8 475.3 637.6 476.8 635.5 C478.4 633.5 480.0 631.4 481.6 629.4 C483.3 627.4 485.0 625.5 486.8 623.6 C488.6 621.7 490.4 619.9 492.4 618.1 C494.3 616.4 496.3 614.6 498.3 613.0 C500.4 611.3 502.5 609.8 504.8 608.2 C507.0 606.7 509.3 605.3 511.6 603.9 C514.0 602.6 516.4 601.3 518.9 600.2 C521.3 599.0 523.9 598.0 526.4 597.1 C529.0 596.2 531.6 595.5 534.3 594.9 C536.9 594.3 539.6 593.8 542.3 593.5 C544.9 593.2 547.7 593.1 550.4 593.1 C553.0 593.1 555.8 593.3 558.4 593.6 C561.1 593.8 563.8 594.3 566.4 594.8 C569.0 595.4 571.6 596.1 574.1 596.8 C576.6 597.6 579.1 598.5 581.6 599.5 C584.0 600.5 586.5 601.6 588.8 602.8 C591.2 603.9 593.6 605.2 595.9 606.5 C598.2 607.7 600.5 609.1 602.8 610.5 C605.1 611.8 607.3 613.2 609.5 614.7 C611.7 616.1 613.9 617.6 616.1 619.1 C618.3 620.6 620.5 622.2 622.6 623.7 C624.8 625.3 626.9 626.9 629.0 628.5 C631.1 630.1 633.2 631.7 635.3 633.4 C637.4 635.0 639.5 636.7 641.5 638.4 C643.6 640.1 645.6 641.8 647.7 643.5 C649.7 645.2 651.7 647.0 653.7 648.7 C655.8 650.5 657.8 652.2 659.8 654.0 C661.8 655.8 663.8 657.5 665.8 659.3 C667.8 661.1 669.8 662.9 671.8 664.6 C673.8 666.4 675.8 668.2 677.8 670.0 C679.8 671.8 681.8 673.6 683.8 675.3 C685.8 677.1 687.8 678.9 689.8 680.6 C691.8 682.4 693.8 684.2 695.8 685.9 C697.8 687.7 699.8 689.4 701.9 691.2 C703.9 692.9 705.9 694.7 707.9 696.4 C709.9 698.2 712.0 699.9 714.0 701.6 C716.0 703.3 718.1 705.1 720.1 706.8 C722.1 708.5 724.2 710.2 726.2 711.9 C728.3 713.6 730.3 715.3 732.4 717.0 C734.4 718.7 736.5 720.4 738.5 722.1 C740.6 723.8 742.7 725.5 744.7 727.2 C746.8 728.9 748.9 730.5 750.9 732.2 C753.0 733.9 755.1 735.5 757.2 737.2 C759.2 738.9 761.3 740.5 763.4 742.2 C765.5 743.8 767.6 745.5 769.7 747.1 C771.8 748.8 773.9 750.4 776.0 752.0 C778.1 753.7 780.2 755.3 782.3 756.9 C784.4 758.5 786.6 760.1 788.7 761.8 C790.8 763.4 792.9 765.0 795.1 766.6 C797.2 768.2 799.3 769.8 801.5 771.4 C803.6 773.0 805.8 774.6 807.9 776.1 C810.0 777.7 812.2 779.3 814.4 780.9 C816.5 782.4 818.7 784.0 820.9 785.5 C823.0 787.1 825.2 788.7 827.4 790.2 C829.6 791.7 831.8 793.3 833.9 794.8 C836.1 796.3 838.3 797.8 840.5 799.3 C842.7 800.8 844.9 802.3 847.1 803.8 C849.4 805.3 851.6 806.8 853.8 808.3 C856.0 809.8 858.2 811.2 860.5 812.7 C862.7 814.1 865.0 815.6 867.2 817.0 C869.4 818.5 871.7 819.9 874.0 821.3 C876.2 822.7 878.5 824.1 880.8 825.5 C883.0 826.9 885.3 828.3 887.6 829.7 C889.9 831.1 892.2 832.4 894.5 833.8 C896.7 835.2 899.1 836.5 901.4 837.8 C903.7 839.2 906.0 840.5 908.3 841.8 C910.6 843.1 912.9 844.4 915.3 845.7 C917.6 847.0 920.0 848.3 922.3 849.5 C924.6 850.8 927.0 852.1 929.4 853.3 C931.7 854.6 934.1 855.8 936.4 857.0 C938.8 858.2 941.2 859.5 943.6 860.7 C945.9 861.9 948.3 863.1 950.7 864.2 C953.1 865.4 955.5 866.6 957.9 867.8 C960.3 868.9 962.7 870.1 965.1 871.2 C967.5 872.4 969.9 873.5 972.4 874.6 C974.8 875.7 977.2 876.8 979.6 878.0 C982.0 879.1 984.5 880.1 986.9 881.2 C989.4 882.3 991.8 883.4 994.2 884.4 C996.7 885.5 999.1 886.6 1001.6 887.6 C1004.1 888.6 1006.5 889.7 1009.0 890.7 C1011.4 891.7 1013.9 892.7 1016.4 893.7 C1018.9 894.7 1021.3 895.7 1023.8 896.7 C1026.3 897.7 1028.8 898.6 1031.3 899.6 C1033.7 900.6 1036.2 901.5 1038.7 902.5 C1041.2 903.4 1043.7 904.3 1046.2 905.3 C1048.7 906.2 1051.2 907.1 1053.8 908.0 C1056.3 908.9 1058.8 909.8 1061.3 910.7 C1063.8 911.6 1066.3 912.4 1068.8 913.3 C1071.4 914.2 1073.9 915.0 1076.4 915.9 C1079.0 916.7 1081.5 917.6 1084.0 918.4 C1086.6 919.2 1089.1 920.0 1091.6 920.9 C1094.2 921.7 1096.7 922.5 1099.3 923.2 C1101.8 924.0 1104.4 924.8 1106.9 925.6 C1109.5 926.4 1112.0 927.1 1114.6 927.9 C1117.1 928.6 1119.7 929.4 1122.3 930.1 C1124.8 930.9 1127.4 931.6 1130.0 932.3 C1132.5 933.0 1135.1 933.7 1137.7 934.4 C1140.2 935.1 1142.8 935.8 1145.4 936.5 C1148.0 937.2 1150.6 937.9 1153.1 938.5 C1155.7 939.2 1158.3 939.8 1160.9 940.5 C1163.5 941.1 1166.1 941.8 1168.7 942.4 C1171.3 943.0 1173.8 943.6 1176.4 944.3 C1179.0 944.9 1181.6 945.5 1184.2 946.1 C1186.8 946.7 1189.4 947.3 1192.0 947.8 C1194.6 948.4 1197.2 949.0 1199.8 949.5 C1202.4 950.1 1205.1 950.7 1207.7 951.2 C1210.3 951.8 1212.9 952.3 1215.5 952.8 C1218.1 953.4 1220.7 953.9 1223.3 954.4 C1226.0 954.9 1228.6 955.4 1231.2 955.9 C1233.8 956.4 1236.4 956.9 1239.1 957.4 C1241.7 957.9 1244.3 958.3 1246.9 958.8 C1249.6 959.3 1252.2 959.7 1254.8 960.2 C1257.4 960.6 1260.1 961.1 1262.7 961.5 C1265.3 962.0 1268.0 962.4 1270.6 962.8 C1273.2 963.2 1275.9 963.7 1278.5 964.1 C1281.1 964.5 1283.8 964.9 1286.4 965.3 C1289.0 965.7 1291.7 966.1 1294.3 966.5 C1296.9 966.8 1299.6 967.2 1302.2 967.6 C1304.9 968.0 1307.5 968.3 1310.2 968.7 C1312.8 969.1 1315.4 969.4 1318.1 969.8 C1320.7 970.1 1323.4 970.5 1326.0 970.9 C1328.7 971.2 1331.3 971.5 1333.9 971.9 C1336.6 972.2 1339.2 972.6 1341.9 972.9 C1344.5 973.2 1347.2 973.6 1349.8 973.9 C1352.5 974.2 1355.1 974.6 1357.8 974.9 C1360.4 975.2 1363.1 975.5 1365.7 975.9 C1368.3 976.2 1371.0 976.5 1373.7 976.8 C1376.3 977.1 1378.9 977.4 1381.6 977.8 C1384.2 978.1 1386.9 978.4 1389.5 978.7 C1392.2 979.0 1394.8 979.3 1397.5 979.6 C1400.1 980.0 1402.8 980.3 1405.4 980.6 C1408.1 980.9 1410.7 981.2 1413.4 981.5 C1416.0 981.8 1418.7 982.1 1421.3 982.4 C1424.0 982.7 1426.6 983.0 1429.3 983.3 C1431.9 983.6 1434.6 983.9 1437.2 984.2 C1439.9 984.5 1442.5 984.8 1445.2 985.1 C1447.8 985.4 1450.5 985.7 1453.1 986.0 C1455.8 986.3 1458.4 986.6 1461.1 986.9 C1463.7 987.1 1466.4 987.4 1469.0 987.7 C1471.7 988.0 1474.3 988.2 1477.0 988.5 C1479.6 988.8 1482.3 989.0 1484.9 989.3 C1487.6 989.6 1490.2 989.8 1492.9 990.1 C1495.6 990.4 1498.2 990.6 1500.9 990.9 C1503.5 991.1 1506.2 991.4 1508.8 991.6 C1511.5 991.8 1514.1 992.1 1516.8 992.3 C1519.4 992.5 1522.1 992.8 1524.8 993.0 C1527.4 993.2 1530.1 993.5 1532.7 993.7 C1535.4 993.9 1538.1 994.1 1540.7 994.3 C1543.4 994.5 1546.0 994.7 1548.7 994.9 C1551.3 995.1 1554.0 995.3 1556.7 995.5 C1559.3 995.7 1562.0 995.9 1564.6 996.1 C1567.3 996.3 1570.0 996.5 1572.6 996.7 C1575.3 996.9 1577.9 997.0 1580.6 997.2 C1583.3 997.4 1585.9 997.6 1588.6 997.7 C1591.3 997.9 1593.9 998.1 1596.6 998.2 C1599.2 998.4 1601.9 998.6 1604.6 998.7 C1607.2 998.9 1609.9 999.1 1612.5 999.2 C1615.2 999.4 1617.9 999.5 1620.5 999.7 C1623.2 999.8 1625.9 1000.0 1628.5 1000.1 C1631.2 1000.3 1633.9 1000.4 1636.5 1000.6 C1639.2 1000.7 1641.8 1000.8 1644.5 1001.0 C1647.2 1001.1 1649.8 1001.3 1652.5 1001.4 C1655.2 1001.5 1657.8 1001.7 1660.5 1001.8 C1663.2 1001.9 1665.8 1002.1 1668.5 1002.2 C1671.1 1002.3 1673.8 1002.5 1676.5 1002.6 C1679.1 1002.7 1681.8 1002.8 1684.5 1003.0 C1687.1 1003.1 1689.8 1003.2 1692.5 1003.3 C1695.1 1003.4 1697.8 1003.6 1700.4 1003.7 C1703.1 1003.8 1705.8 1003.9 1708.4 1004.0 C1711.1 1004.1 1713.8 1004.2 1716.4 1004.4 C1719.1 1004.5 1721.7 1004.6 1724.4 1004.7 C1727.1 1004.8 1729.7 1004.9 1732.4 1005.0 C1735.1 1005.1 1737.7 1005.2 1740.4 1005.3 C1743.1 1005.4 1745.7 1005.5 1748.4 1005.6 C1751.1 1005.7 1753.7 1005.8 1756.4 1005.9 C1759.1 1006.0 1761.7 1006.1 1764.4 1006.2 C1767.0 1006.3 1769.7 1006.4 1772.4 1006.5 C1775.0 1006.6 1777.7 1006.7 1780.4 1006.8 C1783.0 1006.9 1785.7 1007.0 1788.4 1007.0 C1791.0 1007.1 1793.7 1007.2 1796.4 1007.3 C1799.0 1007.4 1801.7 1007.5 1804.4 1007.6 C1807.0 1007.6 1809.7 1007.7 1812.4 1007.8 C1815.0 1007.9 1817.7 1008.0 1820.3 1008.1 C1823.0 1008.2 1825.7 1008.2 1828.3 1008.3 C1831.0 1008.4 1833.7 1008.5 1836.3 1008.6 C1839.0 1008.7 1841.7 1008.8 1844.3 1008.9 C1847.0 1008.9 1849.7 1009.0 1852.3 1009.1 C1855.0 1009.2 1857.7 1009.3 1860.3 1009.4 C1863.0 1009.5 1865.7 1009.6 1868.3 1009.7 C1871.0 1009.8 1873.7 1009.9 1876.3 1010.0 C1879.0 1010.1 1881.7 1010.2 1884.3 1010.3 C1887.0 1010.4 1889.6 1010.5 1892.3 1010.6 C1895.0 1010.7 1898.5 1010.8 1900.3 1010.9 C1902.1 1011.0 1902.5 1011.0 1903.0 1011.0" stroke="#00E6D2"/>
<path d="M243.4 991.2 L289.5 1021.5 C295.0 1018.5 302.0 1014.7 305.9 1012.5 C309.8 1010.4 310.6 1010.0 312.9 1008.6 C315.2 1007.3 317.5 1005.9 319.8 1004.5 C322.1 1003.1 324.3 1001.7 326.5 1000.2 C328.7 998.7 330.9 997.2 333.1 995.7 C335.3 994.2 337.4 992.6 339.5 991.0 C341.7 989.4 343.8 987.8 345.9 986.1 C347.9 984.5 350.0 982.8 352.1 981.0 C354.1 979.3 356.1 977.5 358.1 975.8 C360.1 974.0 362.1 972.1 364.0 970.3 C366.0 968.5 367.9 966.6 369.8 964.7 C371.7 962.9 373.5 961.0 375.4 959.0 C377.2 957.1 379.1 955.2 380.9 953.2 C382.6 951.2 384.4 949.3 386.2 947.3 C387.9 945.3 389.7 943.3 391.4 941.2 C393.1 939.2 394.8 937.1 396.5 935.1 C398.2 933.0 399.8 930.9 401.5 928.9 C403.1 926.8 404.7 924.7 406.4 922.5 C408.0 920.4 409.6 918.3 411.2 916.2 C412.8 914.0 414.3 911.9 415.9 909.7 C417.5 907.6 419.0 905.4 420.6 903.2 C422.1 901.0 423.6 898.8 425.1 896.6 C426.7 894.5 428.2 892.3 429.7 890.0 C431.2 887.8 432.7 885.6 434.2 883.4 C435.7 881.2 437.2 879.0 438.6 876.8 C440.1 874.5 441.6 872.3 443.1 870.1 C444.5 867.9 446.0 865.6 447.5 863.4 C449.0 861.2 450.4 858.9 451.9 856.7 C453.4 854.5 454.9 852.2 456.3 850.0 C457.8 847.8 459.3 845.6 460.8 843.4 C462.2 841.1 463.7 838.9 465.2 836.7 C466.7 834.5 468.2 832.3 469.7 830.1 C471.2 827.9 472.8 825.7 474.3 823.5 C475.8 821.3 477.3 819.2 478.9 817.0 C480.4 814.8 482.0 812.7 483.6 810.5 C485.2 808.4 486.7 806.2 488.4 804.1 C490.0 802.0 491.6 799.9 493.2 797.8 C494.8 795.7 496.5 793.6 498.2 791.5 C499.8 789.5 501.5 787.4 503.2 785.4 C505.0 783.4 506.7 781.3 508.4 779.3 C510.2 777.3 512.0 775.3 513.8 773.4 C515.6 771.4 517.4 769.5 519.3 767.5 C521.1 765.6 523.0 763.7 524.9 761.8 C526.8 760.0 528.8 758.1 530.7 756.3 C532.7 754.4 534.6 752.6 536.6 750.9 C538.7 749.1 540.7 747.3 542.7 745.6 C544.8 743.9 546.9 742.2 549.0 740.5 C551.1 738.9 553.2 737.3 555.3 735.7 C557.5 734.1 559.7 732.6 561.9 731.0 C564.0 729.5 566.3 728.0 568.5 726.6 C570.7 725.2 573.0 723.8 575.3 722.4 C577.6 721.1 579.9 719.8 582.2 718.5 C584.6 717.2 586.9 716.0 589.3 714.8 C591.7 713.7 594.1 712.5 596.5 711.5 C598.9 710.4 601.3 709.4 603.8 708.4 C606.3 707.4 608.8 706.5 611.3 705.6 C613.8 704.8 616.3 703.9 618.8 703.2 C621.4 702.4 624.0 701.7 626.5 701.1 C629.1 700.4 631.7 699.8 634.4 699.3 C637.0 698.8 639.6 698.3 642.3 697.9 C644.9 697.5 647.6 697.1 650.3 696.8 C652.9 696.5 655.6 696.3 658.3 696.1 C661.0 695.9 663.7 695.7 666.4 695.7 C669.0 695.6 671.7 695.5 674.4 695.6 C677.1 695.6 679.8 695.7 682.5 695.8 C685.1 695.9 687.8 696.1 690.5 696.3 C693.1 696.5 695.8 696.8 698.4 697.1 C701.1 697.4 703.7 697.7 706.4 698.1 C709.0 698.5 711.6 698.9 714.3 699.4 C716.9 699.9 719.5 700.4 722.1 700.9 C724.7 701.5 727.3 702.1 729.9 702.7 C732.4 703.3 735.0 704.0 737.6 704.7 C740.1 705.3 742.7 706.1 745.2 706.8 C747.8 707.6 750.3 708.4 752.8 709.2 C755.3 710.0 757.9 710.8 760.4 711.7 C762.9 712.5 765.4 713.4 767.9 714.4 C770.3 715.3 772.8 716.2 775.3 717.2 C777.8 718.2 780.2 719.2 782.7 720.2 C785.1 721.2 787.6 722.2 790.0 723.3 C792.5 724.3 794.9 725.4 797.4 726.5 C799.8 727.6 802.2 728.7 804.6 729.9 C807.1 731.0 809.5 732.1 811.9 733.3 C814.3 734.5 816.7 735.6 819.1 736.8 C821.5 738.0 823.9 739.2 826.2 740.4 C828.6 741.7 831.0 742.9 833.4 744.1 C835.8 745.4 838.2 746.6 840.5 747.9 C842.9 749.1 845.2 750.4 847.6 751.6 C850.0 752.9 852.3 754.2 854.7 755.4 C857.0 756.7 859.4 758.0 861.7 759.3 C864.1 760.6 866.4 761.9 868.8 763.1 C871.1 764.4 873.5 765.7 875.8 767.0 C878.1 768.3 880.5 769.6 882.8 770.9 C885.1 772.2 887.5 773.5 889.8 774.8 C892.1 776.0 894.5 777.3 896.8 778.6 C899.1 779.9 901.5 781.2 903.8 782.5 C906.1 783.8 908.4 785.1 910.8 786.4 C913.1 787.7 915.4 789.0 917.8 790.3 C920.1 791.6 922.4 792.9 924.7 794.1 C927.1 795.4 929.4 796.7 931.7 798.0 C934.1 799.3 936.4 800.6 938.7 801.8 C941.1 803.1 943.4 804.4 945.7 805.7 C948.1 806.9 950.4 808.2 952.8 809.5 C955.1 810.7 957.4 812.0 959.8 813.3 C962.1 814.5 964.5 815.8 966.8 817.0 C969.2 818.3 971.5 819.5 973.9 820.8 C976.2 822.0 978.6 823.2 981.0 824.5 C983.3 825.7 985.7 826.9 988.0 828.2 C990.4 829.4 992.8 830.6 995.2 831.8 C997.5 833.0 999.9 834.2 1002.3 835.4 C1004.7 836.6 1007.1 837.8 1009.5 839.0 C1011.9 840.2 1014.3 841.3 1016.6 842.5 C1019.0 843.7 1021.4 844.9 1023.9 846.0 C1026.3 847.2 1028.7 848.3 1031.1 849.5 C1033.5 850.6 1035.9 851.8 1038.3 852.9 C1040.7 854.0 1043.2 855.1 1045.6 856.2 C1048.0 857.4 1050.4 858.5 1052.9 859.6 C1055.3 860.7 1057.7 861.7 1060.2 862.8 C1062.6 863.9 1065.1 865.0 1067.5 866.0 C1070.0 867.1 1072.4 868.2 1074.9 869.2 C1077.3 870.3 1079.8 871.3 1082.2 872.3 C1084.7 873.4 1087.2 874.4 1089.6 875.4 C1092.1 876.4 1094.6 877.4 1097.1 878.4 C1099.5 879.4 1102.0 880.4 1104.5 881.3 C1107.0 882.3 1109.5 883.3 1112.0 884.2 C1114.5 885.2 1117.0 886.1 1119.5 887.0 C1121.9 888.0 1124.4 888.9 1127.0 889.8 C1129.5 890.7 1132.0 891.6 1134.5 892.5 C1137.0 893.4 1139.5 894.3 1142.0 895.2 C1144.5 896.1 1147.1 896.9 1149.6 897.8 C1152.1 898.6 1154.6 899.5 1157.2 900.3 C1159.7 901.2 1162.2 902.0 1164.8 902.8 C1167.3 903.6 1169.8 904.4 1172.4 905.2 C1174.9 906.1 1177.5 906.8 1180.0 907.6 C1182.6 908.4 1185.1 909.2 1187.7 910.0 C1190.2 910.7 1192.8 911.5 1195.3 912.2 C1197.9 913.0 1200.5 913.7 1203.0 914.4 C1205.6 915.2 1208.2 915.9 1210.7 916.6 C1213.3 917.3 1215.9 918.0 1218.5 918.7 C1221.0 919.4 1223.6 920.1 1226.2 920.8 C1228.8 921.4 1231.3 922.1 1233.9 922.8 C1236.5 923.4 1239.1 924.1 1241.7 924.7 C1244.3 925.4 1246.9 926.0 1249.4 926.6 C1252.0 927.3 1254.6 927.9 1257.2 928.5 C1259.8 929.1 1262.4 929.7 1265.0 930.4 C1267.6 931.0 1270.2 931.5 1272.8 932.1 C1275.4 932.7 1278.0 933.3 1280.6 933.9 C1283.2 934.4 1285.8 935.0 1288.4 935.6 C1291.0 936.1 1293.6 936.7 1296.2 937.2 C1298.9 937.8 1301.5 938.4 1304.1 938.9 C1306.7 939.4 1309.3 940.0 1311.9 940.5 C1314.5 941.0 1317.2 941.6 1319.8 942.1 C1322.4 942.6 1325.0 943.1 1327.6 943.6 C1330.2 944.1 1332.8 944.6 1335.5 945.1 C1338.1 945.6 1340.7 946.1 1343.3 946.6 C1346.0 947.1 1348.6 947.6 1351.2 948.1 C1353.8 948.6 1356.4 949.1 1359.1 949.5 C1361.7 950.0 1364.3 950.5 1366.9 951.0 C1369.6 951.5 1372.2 951.9 1374.8 952.4 C1377.4 952.8 1380.1 953.3 1382.7 953.8 C1385.3 954.2 1388.0 954.7 1390.6 955.1 C1393.2 955.6 1395.8 956.0 1398.5 956.4 C1401.1 956.9 1403.7 957.3 1406.4 957.7 C1409.0 958.2 1411.6 958.6 1414.3 959.0 C1416.9 959.4 1419.5 959.8 1422.2 960.3 C1424.8 960.7 1427.4 961.1 1430.1 961.5 C1432.7 961.9 1435.3 962.3 1438.0 962.7 C1440.6 963.1 1443.3 963.5 1445.9 963.8 C1448.5 964.2 1451.2 964.6 1453.8 965.0 C1456.4 965.3 1459.1 965.7 1461.7 966.1 C1464.4 966.4 1467.0 966.8 1469.7 967.2 C1472.3 967.5 1474.9 967.9 1477.6 968.2 C1480.2 968.6 1482.9 968.9 1485.5 969.2 C1488.2 969.6 1490.8 969.9 1493.5 970.2 C1496.1 970.5 1498.8 970.9 1501.4 971.2 C1504.0 971.5 1506.7 971.8 1509.3 972.1 C1512.0 972.4 1514.6 972.7 1517.3 973.0 C1520.0 973.3 1522.6 973.6 1525.2 973.9 C1527.9 974.2 1530.5 974.5 1533.2 974.8 C1535.9 975.0 1538.5 975.3 1541.2 975.6 C1543.8 975.9 1546.5 976.1 1549.1 976.4 C1551.8 976.7 1554.4 976.9 1557.1 977.2 C1559.7 977.4 1562.4 977.7 1565.0 977.9 C1567.7 978.2 1570.4 978.4 1573.0 978.6 C1575.7 978.9 1578.3 979.1 1581.0 979.4 C1583.6 979.6 1586.3 979.8 1589.0 980.0 C1591.6 980.3 1594.3 980.5 1596.9 980.7 C1599.6 980.9 1602.2 981.1 1604.9 981.3 C1607.6 981.6 1610.2 981.8 1612.9 982.0 C1615.5 982.2 1618.2 982.4 1620.9 982.5 C1623.5 982.7 1626.2 982.9 1628.8 983.1 C1631.5 983.3 1634.2 983.5 1636.8 983.7 C1639.5 983.9 1642.1 984.1 1644.8 984.3 C1647.5 984.4 1650.1 984.6 1652.8 984.8 C1655.4 985.0 1658.1 985.2 1660.8 985.3 C1663.4 985.5 1666.1 985.7 1668.7 985.9 C1671.4 986.0 1674.1 986.2 1676.7 986.4 C1679.4 986.6 1682.0 986.8 1684.7 986.9 C1687.4 987.1 1690.0 987.3 1692.7 987.5 C1695.4 987.6 1698.0 987.8 1700.7 988.0 C1703.3 988.2 1706.0 988.3 1708.7 988.5 C1711.3 988.7 1714.0 988.9 1716.6 989.1 C1719.3 989.2 1722.0 989.4 1724.6 989.6 C1727.3 989.8 1729.9 990.0 1732.6 990.2 C1735.3 990.4 1737.9 990.5 1740.6 990.7 C1743.2 990.9 1745.9 991.1 1748.5 991.3 C1751.2 991.5 1753.9 991.7 1756.5 991.9 C1759.2 992.1 1761.8 992.3 1764.5 992.5 C1767.2 992.7 1769.8 992.9 1772.5 993.1 C1775.2 993.3 1777.8 993.5 1780.5 993.7 C1783.1 993.9 1785.8 994.1 1788.4 994.3 C1791.1 994.5 1793.8 994.7 1796.4 994.9 C1799.1 995.1 1801.7 995.3 1804.4 995.5 C1807.1 995.7 1809.7 995.9 1812.4 996.1 C1815.0 996.3 1817.7 996.5 1820.4 996.6 C1823.0 996.8 1825.7 997.0 1828.3 997.2 C1831.0 997.4 1833.7 997.6 1836.3 997.8 C1839.0 997.9 1841.6 998.1 1844.3 998.3 C1847.0 998.5 1849.6 998.6 1852.3 998.8 C1855.0 999.0 1857.6 999.1 1860.3 999.3 C1862.9 999.4 1865.6 999.6 1868.3 999.7 C1870.9 999.9 1873.6 1000.0 1876.2 1000.2 C1878.9 1000.3 1881.6 1000.5 1884.2 1000.6 C1886.9 1000.8 1889.6 1000.9 1892.2 1001.1 C1894.9 1001.2 1898.4 1001.4 1900.2 1001.5 C1902.0 1001.6 1902.5 1001.7 1903.0 1001.7" stroke="#00B050"/>
<path d="M243.4 991.2 L289.5 1022.5 C295.2 1020.0 302.5 1016.8 306.6 1015.1 C310.6 1013.4 311.5 1013.1 314.0 1012.1 C316.4 1011.1 318.9 1010.0 321.3 1008.9 C323.7 1007.8 326.1 1006.6 328.5 1005.5 C330.9 1004.3 333.3 1003.1 335.7 1001.9 C338.1 1000.7 340.4 999.5 342.8 998.2 C345.1 996.9 347.4 995.6 349.8 994.3 C352.1 993.0 354.4 991.6 356.6 990.2 C358.9 988.8 361.2 987.4 363.4 986.0 C365.7 984.5 367.9 983.1 370.1 981.6 C372.4 980.1 374.6 978.6 376.8 977.1 C379.0 975.6 381.1 974.0 383.3 972.5 C385.5 970.9 387.6 969.4 389.8 967.8 C391.9 966.2 394.0 964.6 396.1 963.0 C398.2 961.3 400.3 959.7 402.4 958.0 C404.5 956.4 406.6 954.7 408.7 953.0 C410.7 951.4 412.8 949.7 414.9 948.0 C416.9 946.3 418.9 944.5 421.0 942.8 C423.0 941.1 425.0 939.3 427.0 937.6 C429.0 935.8 431.0 934.0 433.0 932.3 C435.0 930.5 437.0 928.7 439.0 926.9 C440.9 925.1 442.9 923.3 444.9 921.5 C446.8 919.7 448.8 917.9 450.7 916.0 C452.7 914.2 454.6 912.4 456.5 910.5 C458.5 908.7 460.4 906.8 462.3 905.0 C464.2 903.1 466.1 901.3 468.1 899.4 C470.0 897.6 471.9 895.7 473.8 893.8 C475.7 892.0 477.6 890.1 479.5 888.2 C481.4 886.3 483.3 884.5 485.2 882.6 C487.1 880.7 489.0 878.8 490.9 877.0 C492.8 875.1 494.6 873.2 496.5 871.3 C498.4 869.5 500.3 867.6 502.2 865.7 C504.1 863.9 506.0 862.0 508.0 860.1 C509.9 858.3 511.8 856.4 513.7 854.6 C515.6 852.8 517.5 850.9 519.5 849.1 C521.4 847.2 523.4 845.4 525.3 843.6 C527.2 841.8 529.2 840.0 531.2 838.2 C533.1 836.4 535.1 834.6 537.1 832.8 C539.1 831.0 541.1 829.3 543.1 827.5 C545.1 825.8 547.1 824.0 549.1 822.3 C551.2 820.6 553.2 818.9 555.3 817.2 C557.3 815.5 559.4 813.8 561.5 812.1 C563.6 810.4 565.7 808.8 567.8 807.2 C569.9 805.5 572.0 803.9 574.2 802.3 C576.3 800.7 578.5 799.1 580.7 797.6 C582.8 796.0 585.0 794.5 587.2 793.0 C589.5 791.5 591.7 790.0 593.9 788.5 C596.1 787.0 598.4 785.6 600.7 784.2 C602.9 782.8 605.2 781.4 607.5 780.0 C609.8 778.6 612.1 777.3 614.4 776.0 C616.7 774.7 619.1 773.4 621.4 772.1 C623.8 770.9 626.1 769.7 628.5 768.5 C630.9 767.3 633.3 766.1 635.7 765.0 C638.1 763.9 640.5 762.8 643.0 761.7 C645.4 760.6 647.8 759.6 650.3 758.6 C652.8 757.6 655.2 756.7 657.7 755.8 C660.2 754.9 662.7 754.0 665.3 753.1 C667.8 752.3 670.3 751.5 672.9 750.7 C675.4 750.0 678.0 749.2 680.5 748.6 C683.1 747.9 685.7 747.2 688.3 746.6 C690.9 746.0 693.5 745.5 696.1 744.9 C698.7 744.4 701.3 743.9 704.0 743.5 C706.6 743.0 709.3 742.6 711.9 742.2 C714.5 741.9 717.2 741.5 719.9 741.2 C722.5 741.0 725.2 740.7 727.9 740.5 C730.5 740.3 733.2 740.1 735.9 739.9 C738.5 739.8 741.2 739.7 743.9 739.6 C746.6 739.6 749.2 739.5 751.9 739.5 C754.6 739.5 757.3 739.6 759.9 739.7 C762.6 739.7 765.3 739.9 768.0 740.0 C770.6 740.2 773.3 740.4 776.0 740.6 C778.6 740.8 781.3 741.1 783.9 741.4 C786.6 741.7 789.2 742.0 791.9 742.4 C794.5 742.7 797.1 743.1 799.8 743.6 C802.4 744.0 805.0 744.5 807.6 744.9 C810.2 745.4 812.8 745.9 815.4 746.5 C818.0 747.0 820.6 747.6 823.2 748.2 C825.8 748.7 828.4 749.3 831.0 750.0 C833.6 750.6 836.2 751.2 838.8 751.8 C841.3 752.5 843.9 753.1 846.5 753.8 C849.1 754.5 851.6 755.2 854.2 755.9 C856.8 756.6 859.3 757.3 861.9 758.0 C864.5 758.7 867.0 759.5 869.6 760.2 C872.2 761.0 874.7 761.8 877.3 762.6 C879.8 763.3 882.4 764.1 884.9 765.0 C887.4 765.8 890.0 766.6 892.5 767.4 C895.1 768.2 897.6 769.1 900.1 769.9 C902.6 770.8 905.2 771.7 907.7 772.5 C910.2 773.4 912.7 774.3 915.3 775.2 C917.8 776.1 920.3 777.0 922.8 777.9 C925.3 778.8 927.8 779.8 930.3 780.7 C932.8 781.6 935.3 782.6 937.8 783.5 C940.3 784.5 942.8 785.4 945.3 786.4 C947.7 787.4 950.2 788.4 952.7 789.4 C955.2 790.3 957.7 791.3 960.1 792.4 C962.6 793.4 965.1 794.4 967.5 795.4 C970.0 796.4 972.5 797.4 974.9 798.5 C977.4 799.5 979.8 800.5 982.3 801.6 C984.7 802.6 987.2 803.7 989.6 804.7 C992.1 805.8 994.5 806.8 997.0 807.9 C999.4 808.9 1001.9 810.0 1004.3 811.1 C1006.7 812.1 1009.2 813.2 1011.6 814.3 C1014.1 815.4 1016.5 816.4 1018.9 817.5 C1021.4 818.6 1023.8 819.7 1026.2 820.8 C1028.7 821.9 1031.1 823.0 1033.5 824.0 C1036.0 825.1 1038.4 826.2 1040.8 827.3 C1043.3 828.4 1045.7 829.5 1048.1 830.6 C1050.6 831.7 1053.0 832.8 1055.4 833.9 C1057.9 834.9 1060.3 836.0 1062.7 837.1 C1065.2 838.2 1067.6 839.3 1070.0 840.4 C1072.5 841.5 1074.9 842.5 1077.3 843.6 C1079.8 844.7 1082.2 845.8 1084.7 846.9 C1087.1 847.9 1089.6 849.0 1092.0 850.1 C1094.4 851.1 1096.9 852.2 1099.3 853.3 C1101.8 854.3 1104.2 855.4 1106.7 856.4 C1109.1 857.5 1111.6 858.5 1114.1 859.6 C1116.5 860.6 1119.0 861.6 1121.4 862.7 C1123.9 863.7 1126.4 864.7 1128.8 865.7 C1131.3 866.7 1133.8 867.7 1136.2 868.7 C1138.7 869.7 1141.2 870.7 1143.7 871.7 C1146.1 872.7 1148.6 873.6 1151.1 874.6 C1153.6 875.6 1156.1 876.5 1158.6 877.5 C1161.1 878.4 1163.6 879.3 1166.1 880.2 C1168.6 881.2 1171.1 882.1 1173.6 883.0 C1176.1 883.9 1178.6 884.7 1181.1 885.6 C1183.6 886.5 1186.2 887.4 1188.7 888.2 C1191.2 889.1 1193.7 889.9 1196.3 890.7 C1198.8 891.5 1201.3 892.4 1203.9 893.2 C1206.4 894.0 1209.0 894.7 1211.5 895.5 C1214.1 896.3 1216.6 897.1 1219.2 897.9 C1221.7 898.6 1224.3 899.4 1226.9 900.1 C1229.4 900.8 1232.0 901.6 1234.6 902.3 C1237.1 903.0 1239.7 903.7 1242.3 904.4 C1244.8 905.1 1247.4 905.8 1250.0 906.5 C1252.6 907.2 1255.2 907.9 1257.7 908.6 C1260.3 909.2 1262.9 909.9 1265.5 910.6 C1268.1 911.2 1270.7 911.9 1273.3 912.5 C1275.8 913.2 1278.4 913.8 1281.0 914.4 C1283.6 915.1 1286.2 915.7 1288.8 916.3 C1291.4 916.9 1294.0 917.5 1296.6 918.2 C1299.2 918.8 1301.8 919.4 1304.4 920.0 C1307.0 920.6 1309.6 921.2 1312.2 921.8 C1314.8 922.4 1317.4 922.9 1320.0 923.5 C1322.6 924.1 1325.2 924.7 1327.8 925.3 C1330.4 925.8 1333.0 926.4 1335.7 927.0 C1338.3 927.5 1340.9 928.1 1343.5 928.6 C1346.1 929.2 1348.7 929.8 1351.3 930.3 C1353.9 930.8 1356.5 931.4 1359.1 931.9 C1361.7 932.5 1364.3 933.0 1367.0 933.5 C1369.6 934.1 1372.2 934.6 1374.8 935.1 C1377.4 935.6 1380.0 936.1 1382.6 936.6 C1385.3 937.2 1387.9 937.7 1390.5 938.2 C1393.1 938.7 1395.7 939.2 1398.3 939.6 C1401.0 940.1 1403.6 940.6 1406.2 941.1 C1408.8 941.6 1411.4 942.1 1414.1 942.5 C1416.7 943.0 1419.3 943.5 1421.9 944.0 C1424.6 944.4 1427.2 944.9 1429.8 945.3 C1432.4 945.8 1435.1 946.2 1437.7 946.7 C1440.3 947.1 1443.0 947.6 1445.6 948.0 C1448.2 948.4 1450.8 948.9 1453.5 949.3 C1456.1 949.7 1458.7 950.1 1461.4 950.5 C1464.0 951.0 1466.7 951.4 1469.3 951.8 C1471.9 952.2 1474.6 952.6 1477.2 953.0 C1479.8 953.4 1482.5 953.8 1485.1 954.1 C1487.8 954.5 1490.4 954.9 1493.0 955.3 C1495.7 955.7 1498.3 956.0 1501.0 956.4 C1503.6 956.8 1506.3 957.1 1508.9 957.5 C1511.5 957.8 1514.2 958.2 1516.8 958.5 C1519.5 958.9 1522.1 959.2 1524.8 959.5 C1527.4 959.9 1530.1 960.2 1532.7 960.5 C1535.4 960.9 1538.0 961.2 1540.7 961.5 C1543.3 961.8 1546.0 962.1 1548.6 962.4 C1551.3 962.7 1553.9 963.0 1556.6 963.3 C1559.2 963.6 1561.9 963.9 1564.5 964.2 C1567.2 964.5 1569.8 964.8 1572.5 965.0 C1575.1 965.3 1577.8 965.6 1580.4 965.9 C1583.1 966.1 1585.7 966.4 1588.4 966.6 C1591.0 966.9 1593.7 967.1 1596.3 967.4 C1599.0 967.6 1601.7 967.9 1604.3 968.1 C1607.0 968.4 1609.6 968.6 1612.3 968.9 C1614.9 969.1 1617.6 969.3 1620.2 969.5 C1622.9 969.8 1625.6 970.0 1628.2 970.2 C1630.9 970.5 1633.5 970.7 1636.2 970.9 C1638.8 971.1 1641.5 971.3 1644.2 971.6 C1646.8 971.8 1649.5 972.0 1652.1 972.2 C1654.8 972.4 1657.4 972.6 1660.1 972.9 C1662.8 973.1 1665.4 973.3 1668.1 973.5 C1670.7 973.7 1673.4 973.9 1676.0 974.1 C1678.7 974.3 1681.4 974.6 1684.0 974.8 C1686.7 975.0 1689.3 975.2 1692.0 975.4 C1694.6 975.6 1697.3 975.8 1700.0 976.1 C1702.6 976.3 1705.3 976.5 1707.9 976.7 C1710.6 976.9 1713.3 977.1 1715.9 977.4 C1718.6 977.6 1721.2 977.8 1723.9 978.0 C1726.5 978.2 1729.2 978.5 1731.9 978.7 C1734.5 978.9 1737.2 979.1 1739.8 979.3 C1742.5 979.6 1745.2 979.8 1747.8 980.0 C1750.5 980.2 1753.1 980.4 1755.8 980.7 C1758.4 980.9 1761.1 981.1 1763.8 981.3 C1766.4 981.5 1769.1 981.8 1771.7 982.0 C1774.4 982.2 1777.0 982.4 1779.7 982.6 C1782.4 982.9 1785.0 983.1 1787.7 983.3 C1790.3 983.5 1793.0 983.7 1795.7 983.9 C1798.3 984.2 1801.0 984.4 1803.6 984.6 C1806.3 984.8 1808.9 985.0 1811.6 985.2 C1814.3 985.4 1816.9 985.6 1819.6 985.9 C1822.2 986.1 1824.9 986.3 1827.5 986.5 C1830.2 986.7 1832.9 986.9 1835.5 987.1 C1838.2 987.3 1840.8 987.5 1843.5 987.7 C1846.2 987.9 1848.8 988.1 1851.5 988.3 C1854.1 988.5 1856.8 988.6 1859.5 988.8 C1862.1 989.0 1864.8 989.2 1867.4 989.4 C1870.1 989.5 1872.8 989.7 1875.4 989.9 C1878.1 990.0 1880.7 990.2 1883.4 990.3 C1886.1 990.5 1888.7 990.6 1891.4 990.8 C1894.1 990.9 1897.5 991.0 1899.4 991.1 C1901.3 991.2 1902.4 991.3 1903.0 991.3" stroke="#92D050"/>
<path d="M243.4 991.2 L289.0 1023.3 C294.9 1021.0 302.5 1018.0 306.7 1016.5 C310.9 1014.9 311.7 1014.8 314.3 1014.0 C316.8 1013.1 319.4 1012.3 321.9 1011.5 C324.5 1010.7 327.0 1009.8 329.5 1009.0 C332.0 1008.1 334.5 1007.2 337.0 1006.3 C339.5 1005.3 342.0 1004.4 344.5 1003.5 C347.0 1002.5 349.5 1001.6 352.0 1000.7 C354.5 999.8 357.0 998.9 359.5 998.0 C362.0 997.1 364.6 996.2 367.1 995.2 C369.6 994.3 372.1 993.3 374.5 992.3 C377.0 991.3 379.5 990.3 381.9 989.3 C384.4 988.2 386.9 987.2 389.3 986.1 C391.7 985.0 394.1 983.9 396.6 982.8 C399.0 981.6 401.4 980.5 403.8 979.3 C406.2 978.2 408.6 977.0 410.9 975.8 C413.3 974.6 415.7 973.3 418.0 972.1 C420.4 970.9 422.7 969.6 425.1 968.4 C427.4 967.1 429.8 965.8 432.1 964.5 C434.4 963.2 436.7 961.9 439.1 960.6 C441.4 959.2 443.7 957.9 446.0 956.6 C448.3 955.2 450.6 953.9 452.9 952.5 C455.2 951.1 457.4 949.8 459.7 948.4 C462.0 947.0 464.3 945.6 466.6 944.2 C468.8 942.8 471.1 941.4 473.4 940.0 C475.6 938.6 477.9 937.2 480.1 935.7 C482.4 934.3 484.7 932.9 486.9 931.5 C489.2 930.0 491.4 928.6 493.7 927.2 C495.9 925.7 498.2 924.3 500.4 922.9 C502.7 921.4 504.9 920.0 507.1 918.5 C509.4 917.1 511.6 915.7 513.9 914.2 C516.1 912.7 518.3 911.3 520.6 909.8 C522.8 908.4 525.0 906.9 527.2 905.5 C529.5 904.0 531.7 902.5 533.9 901.1 C536.2 899.6 538.4 898.1 540.6 896.7 C542.8 895.2 545.0 893.7 547.3 892.2 C549.5 890.8 551.7 889.3 553.9 887.8 C556.1 886.3 558.4 884.9 560.6 883.4 C562.8 881.9 565.0 880.4 567.2 878.9 C569.4 877.4 571.7 876.0 573.9 874.5 C576.1 873.0 578.3 871.5 580.5 870.0 C582.7 868.5 584.9 867.0 587.1 865.5 C589.4 864.0 591.6 862.6 593.8 861.1 C596.0 859.6 598.2 858.1 600.4 856.6 C602.6 855.1 604.8 853.6 607.0 852.1 C609.3 850.6 611.5 849.1 613.7 847.6 C615.9 846.2 618.1 844.7 620.4 843.2 C622.6 841.7 624.8 840.2 627.0 838.8 C629.2 837.3 631.5 835.8 633.7 834.4 C635.9 832.9 638.2 831.4 640.4 830.0 C642.7 828.6 644.9 827.1 647.1 825.7 C649.4 824.2 651.6 822.8 653.9 821.4 C656.2 820.0 658.4 818.6 660.7 817.2 C663.0 815.8 665.3 814.4 667.5 813.0 C669.8 811.6 672.1 810.3 674.4 808.9 C676.7 807.6 679.0 806.2 681.3 804.9 C683.6 803.6 686.0 802.3 688.3 801.0 C690.6 799.7 692.9 798.4 695.3 797.1 C697.6 795.8 700.0 794.6 702.4 793.3 C704.7 792.1 707.1 790.9 709.5 789.6 C711.9 788.4 714.2 787.2 716.6 786.1 C719.0 784.9 721.5 783.8 723.9 782.6 C726.3 781.5 728.7 780.4 731.2 779.3 C733.6 778.3 736.1 777.2 738.5 776.2 C741.0 775.1 743.4 774.1 745.9 773.2 C748.4 772.2 750.9 771.2 753.4 770.3 C755.9 769.4 758.4 768.5 760.9 767.7 C763.4 766.8 765.9 766.0 768.5 765.2 C771.0 764.4 773.5 763.6 776.1 762.9 C778.7 762.2 781.2 761.5 783.8 760.9 C786.4 760.2 788.9 759.6 791.5 759.1 C794.1 758.5 796.7 758.0 799.4 757.5 C802.0 757.0 804.6 756.6 807.2 756.2 C809.9 755.8 812.5 755.4 815.1 755.1 C817.8 754.8 820.5 754.5 823.1 754.3 C825.8 754.1 828.5 753.9 831.2 753.8 C833.9 753.7 836.6 753.6 839.3 753.6 C842.0 753.6 844.7 753.6 847.4 753.6 C850.0 753.7 852.7 753.8 855.4 754.0 C858.1 754.1 860.8 754.3 863.5 754.6 C866.1 754.8 868.8 755.1 871.4 755.5 C874.1 755.8 876.7 756.2 879.3 756.6 C881.9 757.0 884.5 757.4 887.2 757.9 C889.8 758.3 892.4 758.8 895.0 759.4 C897.6 759.9 900.2 760.4 902.8 761.0 C905.4 761.5 907.9 762.1 910.5 762.7 C913.1 763.3 915.7 763.9 918.3 764.5 C920.9 765.2 923.5 765.8 926.0 766.5 C928.6 767.1 931.2 767.8 933.8 768.5 C936.3 769.2 938.9 769.9 941.5 770.6 C944.0 771.3 946.6 772.1 949.1 772.8 C951.7 773.5 954.3 774.3 956.8 775.1 C959.4 775.9 961.9 776.6 964.5 777.5 C967.0 778.3 969.6 779.1 972.1 779.9 C974.6 780.7 977.2 781.6 979.7 782.4 C982.2 783.3 984.8 784.1 987.3 785.0 C989.8 785.9 992.3 786.8 994.8 787.7 C997.4 788.6 999.9 789.5 1002.4 790.4 C1004.9 791.3 1007.4 792.3 1009.9 793.2 C1012.4 794.2 1014.9 795.1 1017.4 796.1 C1019.9 797.0 1022.3 798.0 1024.8 799.0 C1027.3 800.0 1029.8 801.0 1032.3 802.0 C1034.7 803.0 1037.2 804.0 1039.7 805.0 C1042.2 806.0 1044.6 807.0 1047.1 808.0 C1049.5 809.1 1052.0 810.1 1054.5 811.1 C1056.9 812.2 1059.4 813.2 1061.8 814.2 C1064.3 815.3 1066.7 816.3 1069.2 817.4 C1071.6 818.4 1074.1 819.5 1076.5 820.5 C1079.0 821.5 1081.5 822.6 1083.9 823.6 C1086.4 824.7 1088.8 825.7 1091.2 826.8 C1093.7 827.8 1096.2 828.9 1098.6 829.9 C1101.1 831.0 1103.5 832.0 1106.0 833.0 C1108.4 834.1 1110.9 835.1 1113.3 836.1 C1115.8 837.2 1118.3 838.2 1120.7 839.2 C1123.2 840.2 1125.6 841.2 1128.1 842.2 C1130.6 843.2 1133.0 844.2 1135.5 845.2 C1138.0 846.2 1140.5 847.2 1143.0 848.2 C1145.4 849.1 1147.9 850.1 1150.4 851.1 C1152.9 852.0 1155.4 853.0 1157.9 853.9 C1160.4 854.9 1162.9 855.8 1165.4 856.7 C1167.9 857.6 1170.4 858.5 1172.9 859.5 C1175.4 860.4 1177.9 861.3 1180.4 862.2 C1182.9 863.1 1185.4 863.9 1187.9 864.8 C1190.5 865.7 1193.0 866.6 1195.5 867.5 C1198.0 868.3 1200.5 869.2 1203.1 870.0 C1205.6 870.9 1208.1 871.8 1210.7 872.6 C1213.2 873.5 1215.7 874.3 1218.2 875.1 C1220.8 876.0 1223.3 876.8 1225.8 877.6 C1228.4 878.5 1230.9 879.3 1233.5 880.1 C1236.0 880.9 1238.5 881.7 1241.1 882.5 C1243.6 883.3 1246.2 884.1 1248.7 884.9 C1251.3 885.7 1253.8 886.5 1256.4 887.3 C1258.9 888.1 1261.5 888.9 1264.0 889.7 C1266.6 890.5 1269.1 891.2 1271.7 892.0 C1274.2 892.8 1276.8 893.6 1279.3 894.3 C1281.9 895.1 1284.4 895.9 1287.0 896.6 C1289.5 897.4 1292.1 898.1 1294.7 898.9 C1297.2 899.6 1299.8 900.4 1302.3 901.1 C1304.9 901.9 1307.5 902.6 1310.0 903.3 C1312.6 904.1 1315.2 904.8 1317.7 905.5 C1320.3 906.2 1322.9 906.9 1325.4 907.6 C1328.0 908.4 1330.6 909.1 1333.2 909.8 C1335.7 910.5 1338.3 911.1 1340.9 911.8 C1343.5 912.5 1346.0 913.2 1348.6 913.9 C1351.2 914.5 1353.8 915.2 1356.4 915.8 C1359.0 916.5 1361.5 917.1 1364.1 917.8 C1366.7 918.4 1369.3 919.1 1371.9 919.7 C1374.5 920.3 1377.1 920.9 1379.7 921.6 C1382.3 922.2 1384.9 922.8 1387.5 923.4 C1390.1 924.0 1392.7 924.6 1395.3 925.1 C1397.9 925.7 1400.5 926.3 1403.1 926.9 C1405.7 927.4 1408.3 928.0 1410.9 928.5 C1413.5 929.1 1416.1 929.6 1418.7 930.1 C1421.3 930.7 1424.0 931.2 1426.6 931.7 C1429.2 932.2 1431.8 932.8 1434.4 933.2 C1437.1 933.8 1439.7 934.2 1442.3 934.7 C1444.9 935.2 1447.5 935.7 1450.2 936.1 C1452.8 936.6 1455.4 937.1 1458.0 937.5 C1460.7 938.0 1463.3 938.4 1465.9 938.9 C1468.6 939.3 1471.2 939.7 1473.8 940.1 C1476.5 940.6 1479.1 941.0 1481.7 941.4 C1484.4 941.8 1487.0 942.2 1489.7 942.5 C1492.3 942.9 1494.9 943.3 1497.6 943.7 C1500.2 944.0 1502.9 944.4 1505.5 944.8 C1508.1 945.1 1510.8 945.4 1513.4 945.8 C1516.1 946.1 1518.7 946.4 1521.4 946.8 C1524.0 947.1 1526.7 947.4 1529.3 947.7 C1532.0 948.0 1534.6 948.3 1537.3 948.6 C1539.9 948.9 1542.6 949.2 1545.2 949.4 C1547.9 949.7 1550.5 950.0 1553.2 950.2 C1555.8 950.5 1558.5 950.8 1561.1 951.0 C1563.8 951.3 1566.4 951.5 1569.1 951.8 C1571.8 952.0 1574.4 952.3 1577.1 952.5 C1579.7 952.8 1582.4 953.0 1585.0 953.2 C1587.7 953.5 1590.3 953.7 1593.0 953.9 C1595.7 954.2 1598.3 954.4 1601.0 954.6 C1603.6 954.8 1606.3 955.1 1609.0 955.3 C1611.6 955.5 1614.3 955.7 1616.9 956.0 C1619.6 956.2 1622.2 956.4 1624.9 956.6 C1627.6 956.9 1630.2 957.1 1632.9 957.3 C1635.5 957.5 1638.2 957.8 1640.8 958.0 C1643.5 958.2 1646.2 958.5 1648.8 958.7 C1651.5 958.9 1654.1 959.2 1656.8 959.4 C1659.4 959.6 1662.1 959.9 1664.8 960.1 C1667.4 960.4 1670.1 960.6 1672.7 960.9 C1675.4 961.1 1678.0 961.4 1680.7 961.6 C1683.3 961.9 1686.0 962.1 1688.6 962.4 C1691.3 962.6 1694.0 962.9 1696.6 963.1 C1699.3 963.4 1701.9 963.6 1704.6 963.9 C1707.2 964.1 1709.9 964.4 1712.5 964.7 C1715.2 964.9 1717.8 965.2 1720.5 965.5 C1723.1 965.7 1725.8 966.0 1728.5 966.3 C1731.1 966.5 1733.7 966.8 1736.4 967.1 C1739.1 967.4 1741.7 967.6 1744.4 967.9 C1747.0 968.2 1749.7 968.5 1752.3 968.7 C1755.0 969.0 1757.6 969.3 1760.3 969.6 C1762.9 969.8 1765.6 970.1 1768.2 970.4 C1770.9 970.7 1773.5 971.0 1776.2 971.2 C1778.8 971.5 1781.5 971.8 1784.1 972.1 C1786.8 972.4 1789.4 972.7 1792.1 973.0 C1794.7 973.2 1797.4 973.5 1800.0 973.8 C1802.7 974.1 1805.3 974.4 1808.0 974.7 C1810.7 974.9 1813.3 975.2 1816.0 975.5 C1818.6 975.8 1821.3 976.1 1823.9 976.3 C1826.6 976.6 1829.2 976.9 1831.9 977.2 C1834.5 977.4 1837.2 977.7 1839.8 978.0 C1842.5 978.2 1845.1 978.5 1847.8 978.8 C1850.5 979.0 1853.1 979.3 1855.8 979.5 C1858.4 979.8 1861.1 980.0 1863.7 980.3 C1866.4 980.5 1869.0 980.7 1871.7 981.0 C1874.3 981.2 1877.0 981.4 1879.7 981.7 C1882.3 981.9 1885.0 982.1 1887.6 982.3 C1890.3 982.5 1893.0 982.8 1895.6 983.0 C1898.2 983.1 1901.8 983.4 1903.0 983.5" stroke="#FFFF00"/>
<path d="M243.4 991.2 L288.5 1023.8 C294.6 1021.8 302.6 1019.1 306.9 1017.7 C311.2 1016.3 312.0 1016.1 314.6 1015.4 C317.1 1014.6 319.7 1013.8 322.2 1013.0 C324.7 1012.1 327.3 1011.3 329.8 1010.5 C332.3 1009.6 334.9 1008.8 337.4 1007.9 C339.9 1007.1 342.4 1006.2 344.9 1005.3 C347.5 1004.4 350.0 1003.5 352.5 1002.5 C355.0 1001.6 357.5 1000.7 359.9 999.7 C362.4 998.8 364.9 997.8 367.4 996.8 C369.9 995.8 372.3 994.8 374.8 993.8 C377.3 992.8 379.7 991.8 382.2 990.8 C384.6 989.7 387.1 988.7 389.5 987.6 C392.0 986.5 394.4 985.5 396.9 984.4 C399.3 983.3 401.7 982.2 404.1 981.1 C406.6 980.0 409.0 978.8 411.4 977.7 C413.8 976.6 416.2 975.4 418.6 974.2 C421.0 973.1 423.4 971.9 425.8 970.7 C428.2 969.5 430.6 968.3 432.9 967.1 C435.3 965.9 437.7 964.6 440.0 963.4 C442.4 962.2 444.8 960.9 447.1 959.6 C449.5 958.4 451.8 957.1 454.1 955.8 C456.5 954.5 458.8 953.2 461.1 951.9 C463.5 950.6 465.8 949.3 468.1 948.0 C470.4 946.6 472.7 945.3 475.0 943.9 C477.3 942.5 479.6 941.2 481.8 939.8 C484.1 938.4 486.4 937.0 488.6 935.6 C490.9 934.2 493.2 932.8 495.4 931.4 C497.7 929.9 499.9 928.5 502.2 927.0 C504.4 925.6 506.6 924.2 508.9 922.7 C511.1 921.2 513.3 919.8 515.5 918.3 C517.8 916.8 520.0 915.3 522.2 913.9 C524.4 912.4 526.6 910.9 528.8 909.4 C531.0 907.9 533.2 906.4 535.5 904.9 C537.7 903.4 539.9 901.9 542.1 900.4 C544.3 898.9 546.5 897.4 548.7 895.9 C550.9 894.4 553.1 892.9 555.3 891.4 C557.5 889.9 559.7 888.4 561.9 886.9 C564.1 885.4 566.3 883.9 568.5 882.4 C570.8 880.9 573.0 879.5 575.2 878.0 C577.4 876.5 579.6 875.0 581.9 873.5 C584.1 872.1 586.3 870.6 588.5 869.1 C590.8 867.7 593.0 866.2 595.3 864.8 C597.5 863.4 599.8 861.9 602.0 860.5 C604.3 859.1 606.6 857.7 608.8 856.3 C611.1 854.9 613.4 853.5 615.6 852.1 C617.9 850.7 620.2 849.3 622.5 848.0 C624.8 846.6 627.1 845.3 629.4 843.9 C631.7 842.6 634.0 841.3 636.4 840.0 C638.7 838.7 641.0 837.4 643.4 836.1 C645.7 834.8 648.0 833.5 650.4 832.3 C652.8 831.0 655.1 829.8 657.5 828.6 C659.8 827.4 662.2 826.2 664.6 825.0 C667.0 823.8 669.4 822.6 671.8 821.5 C674.2 820.3 676.6 819.2 679.0 818.1 C681.4 817.0 683.9 815.9 686.3 814.8 C688.7 813.8 691.2 812.7 693.6 811.7 C696.1 810.6 698.6 809.6 701.0 808.7 C703.5 807.7 706.0 806.7 708.5 805.8 C711.0 804.8 713.5 803.9 716.0 803.0 C718.5 802.1 721.1 801.2 723.6 800.4 C726.1 799.5 728.7 798.7 731.2 797.9 C733.7 797.1 736.3 796.3 738.9 795.6 C741.4 794.8 744.0 794.1 746.6 793.4 C749.2 792.7 751.7 792.0 754.3 791.4 C756.9 790.7 759.5 790.1 762.1 789.5 C764.7 788.9 767.3 788.3 769.9 787.8 C772.6 787.2 775.2 786.7 777.8 786.2 C780.4 785.7 783.0 785.2 785.7 784.8 C788.3 784.3 790.9 783.9 793.6 783.5 C796.2 783.1 798.9 782.8 801.5 782.4 C804.1 782.1 806.8 781.8 809.4 781.5 C812.1 781.2 814.7 781.0 817.4 780.8 C820.1 780.5 822.7 780.3 825.4 780.2 C828.0 780.0 830.7 779.9 833.3 779.8 C836.0 779.7 838.6 779.6 841.3 779.6 C844.0 779.5 846.6 779.5 849.3 779.5 C852.0 779.5 854.6 779.6 857.3 779.7 C859.9 779.7 862.6 779.8 865.3 780.0 C867.9 780.1 870.6 780.3 873.3 780.5 C875.9 780.7 878.6 781.0 881.3 781.2 C883.9 781.5 886.6 781.8 889.2 782.1 C891.9 782.4 894.5 782.8 897.2 783.1 C899.8 783.5 902.5 783.9 905.1 784.4 C907.7 784.8 910.4 785.2 913.0 785.7 C915.6 786.2 918.2 786.7 920.9 787.2 C923.5 787.7 926.1 788.3 928.7 788.9 C931.3 789.4 933.9 790.0 936.5 790.6 C939.1 791.3 941.6 791.9 944.2 792.5 C946.8 793.2 949.4 793.9 952.0 794.5 C954.5 795.2 957.1 795.9 959.7 796.7 C962.2 797.4 964.8 798.1 967.4 798.9 C969.9 799.6 972.5 800.4 975.0 801.1 C977.6 801.9 980.1 802.7 982.6 803.5 C985.2 804.3 987.7 805.1 990.3 806.0 C992.8 806.8 995.3 807.6 997.9 808.5 C1000.4 809.3 1002.9 810.1 1005.5 811.0 C1008.0 811.8 1010.5 812.7 1013.0 813.6 C1015.6 814.4 1018.1 815.3 1020.6 816.2 C1023.1 817.1 1025.6 818.0 1028.2 818.9 C1030.7 819.7 1033.2 820.6 1035.7 821.5 C1038.2 822.4 1040.7 823.3 1043.2 824.2 C1045.7 825.1 1048.3 826.0 1050.8 826.9 C1053.3 827.8 1055.8 828.7 1058.3 829.6 C1060.8 830.6 1063.3 831.5 1065.8 832.4 C1068.3 833.3 1070.8 834.2 1073.3 835.1 C1075.8 836.0 1078.3 837.0 1080.8 837.9 C1083.3 838.8 1085.8 839.7 1088.3 840.6 C1090.8 841.5 1093.3 842.4 1095.8 843.4 C1098.4 844.3 1100.9 845.2 1103.4 846.1 C1105.9 847.0 1108.4 847.9 1110.9 848.8 C1113.4 849.7 1115.9 850.6 1118.4 851.5 C1120.9 852.4 1123.4 853.3 1125.9 854.2 C1128.5 855.1 1131.0 856.0 1133.5 856.9 C1136.0 857.8 1138.5 858.7 1141.0 859.6 C1143.5 860.5 1146.1 861.3 1148.6 862.2 C1151.1 863.1 1153.6 863.9 1156.1 864.8 C1158.7 865.7 1161.2 866.5 1163.7 867.4 C1166.2 868.2 1168.8 869.1 1171.3 869.9 C1173.8 870.8 1176.4 871.6 1178.9 872.4 C1181.4 873.3 1184.0 874.1 1186.5 874.9 C1189.0 875.7 1191.6 876.5 1194.1 877.4 C1196.7 878.2 1199.2 879.0 1201.8 879.8 C1204.3 880.6 1206.8 881.4 1209.4 882.2 C1211.9 882.9 1214.5 883.7 1217.0 884.5 C1219.6 885.3 1222.1 886.0 1224.7 886.8 C1227.3 887.6 1229.8 888.3 1232.4 889.1 C1234.9 889.8 1237.5 890.6 1240.1 891.3 C1242.6 892.0 1245.2 892.8 1247.8 893.5 C1250.3 894.2 1252.9 894.9 1255.5 895.6 C1258.0 896.3 1260.6 897.0 1263.2 897.7 C1265.8 898.4 1268.3 899.1 1270.9 899.8 C1273.5 900.5 1276.1 901.1 1278.7 901.8 C1281.2 902.5 1283.8 903.1 1286.4 903.8 C1289.0 904.4 1291.6 905.0 1294.2 905.7 C1296.8 906.3 1299.4 906.9 1302.0 907.5 C1304.5 908.2 1307.1 908.8 1309.7 909.4 C1312.3 910.0 1314.9 910.6 1317.5 911.2 C1320.1 911.8 1322.7 912.3 1325.3 912.9 C1328.0 913.5 1330.6 914.1 1333.2 914.6 C1335.8 915.2 1338.4 915.7 1341.0 916.3 C1343.6 916.8 1346.2 917.3 1348.8 917.9 C1351.4 918.4 1354.1 918.9 1356.7 919.4 C1359.3 919.9 1361.9 920.5 1364.5 921.0 C1367.1 921.4 1369.8 921.9 1372.4 922.4 C1375.0 922.9 1377.6 923.4 1380.3 923.9 C1382.9 924.3 1385.5 924.8 1388.1 925.2 C1390.8 925.7 1393.4 926.1 1396.0 926.6 C1398.7 927.0 1401.3 927.4 1403.9 927.9 C1406.6 928.3 1409.2 928.7 1411.8 929.1 C1414.5 929.5 1417.1 929.9 1419.7 930.3 C1422.4 930.7 1425.0 931.1 1427.6 931.5 C1430.3 931.9 1432.9 932.3 1435.6 932.6 C1438.2 933.0 1440.8 933.4 1443.5 933.7 C1446.1 934.1 1448.8 934.4 1451.4 934.8 C1454.1 935.1 1456.7 935.5 1459.4 935.8 C1462.0 936.1 1464.7 936.5 1467.3 936.8 C1469.9 937.1 1472.6 937.4 1475.2 937.7 C1477.9 938.0 1480.5 938.3 1483.2 938.6 C1485.8 938.9 1488.5 939.2 1491.1 939.5 C1493.8 939.8 1496.4 940.1 1499.1 940.3 C1501.8 940.6 1504.4 940.9 1507.1 941.1 C1509.7 941.4 1512.4 941.7 1515.0 941.9 C1517.7 942.2 1520.3 942.4 1523.0 942.6 C1525.6 942.9 1528.3 943.1 1531.0 943.4 C1533.6 943.6 1536.3 943.8 1538.9 944.0 C1541.6 944.3 1544.2 944.5 1546.9 944.7 C1549.6 944.9 1552.2 945.1 1554.9 945.4 C1557.5 945.6 1560.2 945.8 1562.8 946.0 C1565.5 946.2 1568.2 946.4 1570.8 946.6 C1573.5 946.8 1576.1 946.9 1578.8 947.1 C1581.5 947.3 1584.1 947.5 1586.8 947.7 C1589.5 947.9 1592.1 948.1 1594.8 948.2 C1597.4 948.4 1600.1 948.6 1602.8 948.8 C1605.4 949.0 1608.1 949.1 1610.7 949.3 C1613.4 949.5 1616.0 949.7 1618.7 949.8 C1621.4 950.0 1624.0 950.2 1626.7 950.4 C1629.4 950.5 1632.0 950.7 1634.7 950.9 C1637.3 951.1 1640.0 951.2 1642.7 951.4 C1645.3 951.6 1648.0 951.7 1650.7 951.9 C1653.3 952.1 1656.0 952.3 1658.6 952.4 C1661.3 952.6 1663.9 952.8 1666.6 953.0 C1669.3 953.1 1671.9 953.3 1674.6 953.5 C1677.3 953.7 1679.9 953.8 1682.6 954.0 C1685.2 954.2 1687.9 954.4 1690.6 954.6 C1693.2 954.8 1695.9 954.9 1698.5 955.1 C1701.2 955.3 1703.9 955.5 1706.5 955.7 C1709.2 955.9 1711.8 956.1 1714.5 956.2 C1717.2 956.4 1719.8 956.6 1722.5 956.8 C1725.1 957.0 1727.8 957.2 1730.5 957.4 C1733.1 957.6 1735.8 957.8 1738.4 958.0 C1741.1 958.2 1743.8 958.4 1746.4 958.6 C1749.1 958.8 1751.7 959.0 1754.4 959.2 C1757.0 959.4 1759.7 959.6 1762.4 959.8 C1765.0 960.0 1767.7 960.2 1770.3 960.4 C1773.0 960.6 1775.7 960.8 1778.3 961.0 C1781.0 961.2 1783.6 961.4 1786.3 961.7 C1789.0 961.9 1791.6 962.1 1794.3 962.3 C1796.9 962.5 1799.6 962.7 1802.2 963.0 C1804.9 963.2 1807.6 963.4 1810.2 963.6 C1812.9 963.9 1815.5 964.1 1818.2 964.3 C1820.8 964.5 1823.5 964.8 1826.2 965.0 C1828.8 965.2 1831.5 965.4 1834.1 965.7 C1836.8 965.9 1839.4 966.1 1842.1 966.4 C1844.8 966.6 1847.4 966.8 1850.1 967.0 C1852.7 967.3 1855.4 967.5 1858.0 967.7 C1860.7 968.0 1863.4 968.2 1866.0 968.4 C1868.7 968.6 1871.3 968.9 1874.0 969.1 C1876.6 969.3 1879.3 969.5 1882.0 969.8 C1884.6 970.0 1887.3 970.2 1889.9 970.4 C1892.6 970.7 1895.7 970.9 1897.9 971.1 C1900.1 971.3 1902.2 971.5 1903.0 971.5" stroke="#FFC000"/>
<path d="M243.4 991.2 L286.8 1024.3 C292.7 1022.5 300.4 1020.1 304.6 1018.9 C308.9 1017.7 309.8 1017.7 312.4 1017.0 C315.0 1016.4 317.6 1015.8 320.2 1015.1 C322.8 1014.5 325.3 1013.8 327.9 1013.2 C330.5 1012.5 333.1 1011.8 335.7 1011.1 C338.3 1010.5 340.8 1009.8 343.4 1009.1 C346.0 1008.3 348.6 1007.6 351.1 1006.9 C353.7 1006.2 356.2 1005.4 358.8 1004.6 C361.3 1003.9 363.9 1003.1 366.4 1002.3 C369.0 1001.5 371.5 1000.7 374.1 999.9 C376.6 999.1 379.1 998.2 381.6 997.4 C384.2 996.6 386.7 995.7 389.2 994.9 C391.8 994.0 394.3 993.1 396.8 992.2 C399.3 991.4 401.8 990.5 404.3 989.6 C406.8 988.7 409.3 987.7 411.8 986.8 C414.3 985.9 416.8 984.9 419.3 984.0 C421.8 983.0 424.3 982.1 426.8 981.1 C429.3 980.1 431.8 979.1 434.2 978.1 C436.7 977.1 439.2 976.1 441.6 975.1 C444.1 974.0 446.6 973.0 449.0 972.0 C451.5 970.9 453.9 969.8 456.4 968.8 C458.8 967.7 461.2 966.6 463.6 965.5 C466.1 964.4 468.5 963.3 470.9 962.2 C473.3 961.0 475.8 959.9 478.2 958.8 C480.6 957.6 483.0 956.4 485.4 955.3 C487.8 954.1 490.1 952.9 492.5 951.7 C494.9 950.5 497.3 949.3 499.6 948.1 C502.0 946.8 504.4 945.6 506.7 944.4 C509.1 943.1 511.4 941.9 513.8 940.6 C516.1 939.4 518.5 938.1 520.8 936.8 C523.2 935.5 525.5 934.3 527.8 933.0 C530.2 931.7 532.5 930.4 534.8 929.1 C537.1 927.8 539.5 926.5 541.8 925.2 C544.1 923.9 546.4 922.6 548.8 921.2 C551.1 919.9 553.4 918.6 555.7 917.3 C558.1 916.0 560.4 914.7 562.7 913.4 C565.0 912.0 567.3 910.7 569.6 909.4 C572.0 908.1 574.3 906.8 576.6 905.5 C578.9 904.2 581.3 902.9 583.6 901.5 C585.9 900.2 588.2 898.9 590.6 897.6 C592.9 896.3 595.2 895.1 597.6 893.8 C599.9 892.5 602.3 891.2 604.6 889.9 C607.0 888.7 609.3 887.4 611.7 886.1 C614.0 884.9 616.4 883.6 618.7 882.4 C621.1 881.1 623.5 879.9 625.8 878.7 C628.2 877.5 630.6 876.2 633.0 875.0 C635.3 873.8 637.7 872.6 640.1 871.5 C642.5 870.3 644.9 869.1 647.3 867.9 C649.7 866.8 652.1 865.6 654.5 864.5 C656.9 863.3 659.3 862.2 661.8 861.1 C664.2 860.0 666.6 858.9 669.0 857.8 C671.5 856.7 673.9 855.6 676.3 854.6 C678.8 853.5 681.2 852.5 683.7 851.4 C686.1 850.4 688.6 849.4 691.1 848.4 C693.6 847.4 696.0 846.4 698.5 845.5 C701.0 844.5 703.5 843.5 706.0 842.6 C708.5 841.7 711.0 840.8 713.5 839.9 C716.0 839.0 718.5 838.1 721.0 837.2 C723.6 836.4 726.1 835.5 728.6 834.7 C731.2 833.9 733.7 833.1 736.3 832.3 C738.8 831.5 741.4 830.8 743.9 830.0 C746.5 829.3 749.1 828.6 751.6 827.9 C754.2 827.1 756.8 826.5 759.4 825.8 C762.0 825.1 764.6 824.5 767.2 823.9 C769.8 823.3 772.4 822.7 775.0 822.1 C777.6 821.5 780.2 820.9 782.8 820.4 C785.4 819.9 788.0 819.4 790.6 818.9 C793.3 818.4 795.9 817.9 798.5 817.5 C801.2 817.0 803.8 816.6 806.4 816.2 C809.1 815.8 811.7 815.4 814.4 815.0 C817.0 814.7 819.6 814.3 822.3 814.0 C824.9 813.7 827.6 813.4 830.2 813.2 C832.9 812.9 835.5 812.6 838.2 812.4 C840.9 812.2 843.5 812.0 846.2 811.9 C848.8 811.7 851.5 811.5 854.1 811.4 C856.8 811.3 859.5 811.2 862.1 811.1 C864.8 811.1 867.5 811.0 870.1 811.0 C872.8 811.0 875.4 811.0 878.1 811.0 C880.8 811.0 883.4 811.1 886.1 811.2 C888.8 811.3 891.4 811.4 894.1 811.5 C896.8 811.6 899.4 811.8 902.1 812.0 C904.8 812.1 907.4 812.3 910.1 812.6 C912.8 812.8 915.4 813.0 918.1 813.3 C920.7 813.6 923.4 813.8 926.0 814.1 C928.7 814.4 931.3 814.8 934.0 815.1 C936.6 815.4 939.3 815.8 941.9 816.1 C944.5 816.5 947.2 816.9 949.8 817.3 C952.5 817.7 955.1 818.1 957.7 818.5 C960.4 819.0 963.0 819.4 965.6 819.9 C968.2 820.3 970.8 820.8 973.5 821.3 C976.1 821.8 978.7 822.3 981.3 822.8 C983.9 823.3 986.6 823.8 989.2 824.3 C991.8 824.9 994.4 825.4 997.0 826.0 C999.6 826.5 1002.2 827.1 1004.8 827.6 C1007.4 828.2 1010.0 828.8 1012.6 829.4 C1015.2 830.0 1017.8 830.6 1020.4 831.2 C1023.0 831.8 1025.6 832.4 1028.2 833.0 C1030.8 833.6 1033.4 834.2 1036.0 834.9 C1038.6 835.5 1041.2 836.1 1043.8 836.8 C1046.4 837.4 1049.0 838.0 1051.5 838.7 C1054.1 839.3 1056.7 840.0 1059.3 840.6 C1061.9 841.3 1064.5 841.9 1067.1 842.6 C1069.6 843.3 1072.2 843.9 1074.8 844.6 C1077.4 845.3 1080.0 845.9 1082.5 846.6 C1085.1 847.3 1087.7 848.0 1090.3 848.6 C1092.9 849.3 1095.4 850.0 1098.0 850.7 C1100.6 851.4 1103.2 852.0 1105.8 852.7 C1108.3 853.4 1110.9 854.1 1113.5 854.8 C1116.1 855.5 1118.6 856.2 1121.2 856.9 C1123.8 857.5 1126.4 858.2 1128.9 858.9 C1131.5 859.6 1134.1 860.3 1136.7 861.0 C1139.2 861.7 1141.8 862.4 1144.4 863.1 C1147.0 863.8 1149.5 864.5 1152.1 865.1 C1154.7 865.8 1157.3 866.5 1159.8 867.2 C1162.4 867.9 1165.0 868.6 1167.6 869.3 C1170.2 870.0 1172.7 870.6 1175.3 871.3 C1177.9 872.0 1180.5 872.7 1183.0 873.4 C1185.6 874.0 1188.2 874.7 1190.8 875.4 C1193.4 876.1 1195.9 876.7 1198.5 877.4 C1201.1 878.1 1203.7 878.7 1206.3 879.4 C1208.9 880.1 1211.4 880.7 1214.0 881.4 C1216.6 882.0 1219.2 882.7 1221.8 883.4 C1224.4 884.0 1227.0 884.6 1229.5 885.3 C1232.1 885.9 1234.7 886.6 1237.3 887.2 C1239.9 887.9 1242.5 888.5 1245.1 889.1 C1247.7 889.8 1250.3 890.4 1252.8 891.0 C1255.4 891.6 1258.0 892.2 1260.6 892.9 C1263.2 893.5 1265.8 894.1 1268.4 894.7 C1271.0 895.3 1273.6 895.9 1276.2 896.5 C1278.8 897.1 1281.4 897.7 1284.0 898.3 C1286.6 898.8 1289.2 899.4 1291.8 900.0 C1294.4 900.6 1297.0 901.2 1299.6 901.7 C1302.2 902.3 1304.8 902.8 1307.5 903.4 C1310.1 904.0 1312.7 904.5 1315.3 905.0 C1317.9 905.6 1320.5 906.1 1323.1 906.7 C1325.7 907.2 1328.3 907.7 1331.0 908.2 C1333.6 908.8 1336.2 909.3 1338.8 909.8 C1341.4 910.3 1344.1 910.8 1346.7 911.3 C1349.3 911.8 1351.9 912.3 1354.5 912.8 C1357.2 913.3 1359.8 913.7 1362.4 914.2 C1365.0 914.7 1367.7 915.2 1370.3 915.6 C1372.9 916.1 1375.5 916.5 1378.2 917.0 C1380.8 917.4 1383.4 917.9 1386.0 918.3 C1388.7 918.7 1391.3 919.2 1394.0 919.6 C1396.6 920.0 1399.2 920.4 1401.8 920.8 C1404.5 921.2 1407.1 921.7 1409.8 922.0 C1412.4 922.4 1415.0 922.8 1417.7 923.2 C1420.3 923.6 1422.9 924.0 1425.6 924.3 C1428.2 924.7 1430.9 925.1 1433.5 925.4 C1436.2 925.8 1438.8 926.1 1441.5 926.5 C1444.1 926.8 1446.7 927.1 1449.4 927.5 C1452.0 927.8 1454.7 928.1 1457.3 928.4 C1460.0 928.7 1462.6 929.0 1465.3 929.4 C1467.9 929.7 1470.6 930.0 1473.2 930.2 C1475.9 930.5 1478.5 930.8 1481.2 931.1 C1483.8 931.4 1486.5 931.6 1489.1 931.9 C1491.8 932.2 1494.4 932.4 1497.1 932.7 C1499.8 933.0 1502.4 933.2 1505.1 933.5 C1507.7 933.7 1510.4 933.9 1513.0 934.2 C1515.7 934.4 1518.3 934.6 1521.0 934.9 C1523.7 935.1 1526.3 935.3 1529.0 935.5 C1531.6 935.7 1534.3 936.0 1537.0 936.2 C1539.6 936.4 1542.3 936.6 1544.9 936.8 C1547.6 937.0 1550.2 937.2 1552.9 937.4 C1555.6 937.6 1558.2 937.7 1560.9 937.9 C1563.5 938.1 1566.2 938.3 1568.9 938.5 C1571.5 938.6 1574.2 938.8 1576.8 939.0 C1579.5 939.1 1582.2 939.3 1584.8 939.5 C1587.5 939.6 1590.2 939.8 1592.8 940.0 C1595.5 940.1 1598.1 940.3 1600.8 940.4 C1603.5 940.6 1606.1 940.7 1608.8 940.9 C1611.5 941.1 1614.1 941.2 1616.8 941.4 C1619.4 941.5 1622.1 941.6 1624.8 941.8 C1627.4 941.9 1630.1 942.1 1632.8 942.2 C1635.4 942.4 1638.1 942.5 1640.7 942.7 C1643.4 942.8 1646.1 943.0 1648.7 943.1 C1651.4 943.2 1654.1 943.4 1656.7 943.5 C1659.4 943.7 1662.0 943.8 1664.7 944.0 C1667.4 944.1 1670.0 944.3 1672.7 944.4 C1675.4 944.6 1678.0 944.7 1680.7 944.9 C1683.3 945.0 1686.0 945.2 1688.7 945.4 C1691.3 945.5 1694.0 945.7 1696.7 945.8 C1699.3 946.0 1702.0 946.1 1704.6 946.3 C1707.3 946.5 1710.0 946.6 1712.6 946.8 C1715.3 947.0 1717.9 947.2 1720.6 947.3 C1723.3 947.5 1725.9 947.7 1728.6 947.8 C1731.2 948.0 1733.9 948.2 1736.6 948.4 C1739.2 948.5 1741.9 948.7 1744.5 948.9 C1747.2 949.1 1749.9 949.3 1752.5 949.4 C1755.2 949.6 1757.9 949.8 1760.5 950.0 C1763.2 950.2 1765.8 950.4 1768.5 950.5 C1771.2 950.7 1773.8 950.9 1776.5 951.1 C1779.1 951.3 1781.8 951.5 1784.5 951.7 C1787.1 951.9 1789.8 952.1 1792.4 952.3 C1795.1 952.5 1797.8 952.7 1800.4 952.9 C1803.1 953.0 1805.7 953.2 1808.4 953.4 C1811.1 953.6 1813.7 953.8 1816.4 954.0 C1819.0 954.2 1821.7 954.4 1824.3 954.6 C1827.0 954.8 1829.7 955.0 1832.3 955.2 C1835.0 955.4 1837.6 955.6 1840.3 955.9 C1843.0 956.1 1845.6 956.3 1848.3 956.5 C1850.9 956.7 1853.6 956.9 1856.2 957.1 C1858.9 957.3 1861.6 957.5 1864.2 957.7 C1866.9 957.9 1869.5 958.1 1872.2 958.3 C1874.9 958.5 1877.5 958.7 1880.2 958.9 C1882.8 959.1 1885.5 959.3 1888.2 959.5 C1890.8 959.7 1893.7 959.9 1896.1 960.1 C1898.6 960.3 1901.9 960.5 1903.0 960.6" stroke="#FF0000"/>
</g>
<g stroke="#000" fill="none">
<rect x="243.2" y="52.6" width="1659.7" height="975.9" stroke-width="2.5"/>
<line x1="244.45" y1="52.60" x2="1901.65" y2="52.60" stroke="#1e1e1e" stroke-width="2.5"/>
<line x1="243.2" y1="906.51" x2="268.7" y2="906.51" stroke-width="3.2"/>
<line x1="243.2" y1="784.52" x2="268.7" y2="784.52" stroke-width="3.2"/>
<line x1="243.2" y1="662.54" x2="268.7" y2="662.54" stroke-width="3.2"/>
<line x1="243.2" y1="540.55" x2="268.7" y2="540.55" stroke-width="3.2"/>
<line x1="243.2" y1="418.56" x2="268.7" y2="418.56" stroke-width="3.2"/>
<line x1="243.2" y1="296.58" x2="268.7" y2="296.58" stroke-width="3.2"/>
<line x1="243.2" y1="174.59" x2="268.7" y2="174.59" stroke-width="3.2"/>
<line x1="574.98" y1="1028.5" x2="574.98" y2="1002.8" stroke-width="4.8"/>
<line x1="906.96" y1="1028.5" x2="906.96" y2="1002.8" stroke-width="4.8"/>
<line x1="1238.94" y1="1028.5" x2="1238.94" y2="1002.8" stroke-width="4.8"/>
<line x1="1570.92" y1="1028.5" x2="1570.92" y2="1002.8" stroke-width="4.8"/>
</g>
<g>
<rect x="1386" y="160.4" width="133.4" height="9.6" rx="3" fill="#0066FF"/>
<rect x="1386" y="245.7" width="133.4" height="9.6" rx="3" fill="#00B0F0"/>
<rect x="1386" y="330.9" width="133.4" height="9.6" rx="3" fill="#00E6D2"/>
<rect x="1386" y="416.2" width="133.4" height="9.6" rx="3" fill="#00B050"/>
<rect x="1386" y="501.5" width="133.4" height="9.6" rx="3" fill="#92D050"/>
<rect x="1386" y="586.8" width="133.4" height="9.6" rx="3" fill="#FFFF00"/>
<rect x="1386" y="672.0" width="133.4" height="9.6" rx="3" fill="#FFC000"/>
<rect x="1386" y="757.3" width="133.4" height="9.6" rx="3" fill="#FF0000"/>
</g>
<g font-family="'Liberation Serif', 'Times New Roman', serif" fill="#000">
<text transform="translate(336.5,157.0) scale(1.3000,1)" font-size="74" font-style="italic">f</text>
<text transform="translate(380.7,157.0) scale(1.0955,1)" font-size="74">=</text>
<text transform="translate(441.8,157.0) scale(0.9520,1)" font-size="74">2000</text>
<text transform="translate(601.4,157.0) scale(0.9706,1)" font-size="74">kHz,</text>
<text transform="translate(755.7,157.0) scale(0.9554,1)" font-size="74" font-style="italic">Q</text>
<text transform="translate(822.2,157.0) scale(1.0955,1)" font-size="74">=</text>
<text transform="translate(865.0,157.0) scale(0.9528,1)" font-size="74">20</text>
<text transform="translate(954.4,157.0) scale(0.9456,1)" font-size="74">mL/h</text>
<text transform="translate(1528.2,190.0) scale(0.9129,1)" font-size="74" font-style="italic">t</text>
<text transform="translate(1562.8,184.4) scale(1.3379,1)" font-size="59">=</text>
<text transform="translate(1622.7,190.0) scale(0.9587,1)" font-size="74">30</text>
<text transform="translate(1713.7,190.0) scale(0.8855,1)" font-size="74">s</text>
<text transform="translate(1528.2,275.2) scale(0.9129,1)" font-size="74" font-style="italic">t</text>
<text transform="translate(1562.8,269.6) scale(1.3379,1)" font-size="59">=</text>
<text transform="translate(1623.8,275.2) scale(0.9427,1)" font-size="74">60</text>
<text transform="translate(1713.7,275.2) scale(0.8855,1)" font-size="74">s</text>
<text transform="translate(1528.2,360.4) scale(0.9129,1)" font-size="74" font-style="italic">t</text>
<text transform="translate(1562.8,354.8) scale(1.3379,1)" font-size="59">=</text>
<text transform="translate(1623.8,360.4) scale(0.9427,1)" font-size="74">90</text>
<text transform="translate(1713.7,360.4) scale(0.8855,1)" font-size="74">s</text>
<text transform="translate(1528.2,445.6) scale(0.9129,1)" font-size="74" font-style="italic">t</text>
<text transform="translate(1562.8,440.0) scale(1.3379,1)" font-size="59">=</text>
<text transform="translate(1624.6,445.6) scale(0.9358,1)" font-size="74">120</text>
<text transform="translate(1748.5,445.6) scale(0.8937,1)" font-size="74">s</text>
<text transform="translate(1528.2,530.8) scale(0.9129,1)" font-size="74" font-style="italic">t</text>
<text transform="translate(1562.8,525.2) scale(1.3379,1)" font-size="59">=</text>
<text transform="translate(1624.6,530.8) scale(0.9358,1)" font-size="74">150</text>
<text transform="translate(1748.5,530.8) scale(0.8937,1)" font-size="74">s</text>
<text transform="translate(1528.2,616.0) scale(0.9129,1)" font-size="74" font-style="italic">t</text>
<text transform="translate(1562.8,610.4) scale(1.3379,1)" font-size="59">=</text>
<text transform="translate(1624.6,616.0) scale(0.9358,1)" font-size="74">180</text>
<text transform="translate(1748.5,616.0) scale(0.8937,1)" font-size="74">s</text>
<text transform="translate(1528.2,701.2) scale(0.9129,1)" font-size="74" font-style="italic">t</text>
<text transform="translate(1562.8,695.6) scale(1.3379,1)" font-size="59">=</text>
<text transform="translate(1623.3,701.2) scale(0.9476,1)" font-size="74">240</text>
<text transform="translate(1748.5,701.2) scale(0.8937,1)" font-size="74">s</text>
<text transform="translate(1528.2,786.4) scale(0.9129,1)" font-size="74" font-style="italic">t</text>
<text transform="translate(1562.8,780.8) scale(1.3379,1)" font-size="59">=</text>
<text transform="translate(1622.2,786.4) scale(0.9580,1)" font-size="74">300</text>
<text transform="translate(1748.5,786.4) scale(0.8937,1)" font-size="74">s</text>
<text transform="translate(166.7,1055.1) scale(1.0000,1)" font-size="79.5">0</text>
<text transform="translate(166.7,933.1) scale(1.0000,1)" font-size="79.5">5</text>
<text transform="translate(127.0,811.1) scale(1.0000,1)" font-size="79.5">10</text>
<text transform="translate(127.0,689.1) scale(1.0000,1)" font-size="79.5">15</text>
<text transform="translate(127.0,567.1) scale(1.0000,1)" font-size="79.5">20</text>
<text transform="translate(127.0,445.2) scale(1.0000,1)" font-size="79.5">25</text>
<text transform="translate(127.0,323.2) scale(1.0000,1)" font-size="79.5">30</text>
<text transform="translate(127.0,201.2) scale(1.0000,1)" font-size="79.5">35</text>
<text transform="translate(127.0,79.2) scale(1.0000,1)" font-size="79.5">40</text>
<text transform="translate(222.1,1117.3) scale(0.9775,1)" font-size="79.5">0</text>
<text transform="translate(548.0,1117.3) scale(1.0137,1)" font-size="79.5">2</text>
<text transform="translate(876.3,1117.3) scale(0.9312,1)" font-size="79.5">4</text>
<text transform="translate(1203.6,1117.3) scale(0.9577,1)" font-size="79.5">6</text>
<text transform="translate(1533.3,1117.3) scale(0.8913,1)" font-size="79.5">8</text>
<text transform="translate(1840.8,1117.3) scale(0.9180,1)" font-size="79.5">10</text>
<text transform="translate(765.1,1198.5) scale(0.9853,1)" font-size="78">Temperature</text>
<text transform="translate(1178.6,1198.5) scale(0.9580,1)" font-size="78">Δ</text>
<text transform="translate(1225.9,1198.5) scale(1.1031,1)" font-size="78" font-style="italic">T</text>
<text transform="translate(1305.4,1198.5) scale(0.9468,1)" font-size="78">(°C)</text>
<text transform="translate(79.0,947.7) rotate(-90) scale(0.9941,1)" font-size="78">Number</text>
<text transform="translate(79.0,673.1) rotate(-90) scale(1.0572,1)" font-size="78">of</text>
<text transform="translate(79.0,591.0) rotate(-90) scale(0.9881,1)" font-size="78">pixels</text>
<text transform="translate(79.0,384.9) rotate(-90) scale(0.9892,1)" font-size="78">(</text>
<text transform="translate(84.5,347.5) rotate(-90) scale(1.0211,1)" font-size="104">×</text>
<text transform="translate(79.0,276.3) rotate(-90) scale(0.8500,1)" font-size="78">1</text>
<text transform="translate(79.0,237.5) rotate(-90) scale(0.8938,1)" font-size="78">0</text>
<text transform="translate(53.0,196.1) rotate(-90) scale(0.9764,1)" font-size="52">4</text>
<text transform="translate(79.0,167.2) rotate(-90) scale(1.0136,1)" font-size="78">)</text>
</g>
</svg>
</body>
</html>
